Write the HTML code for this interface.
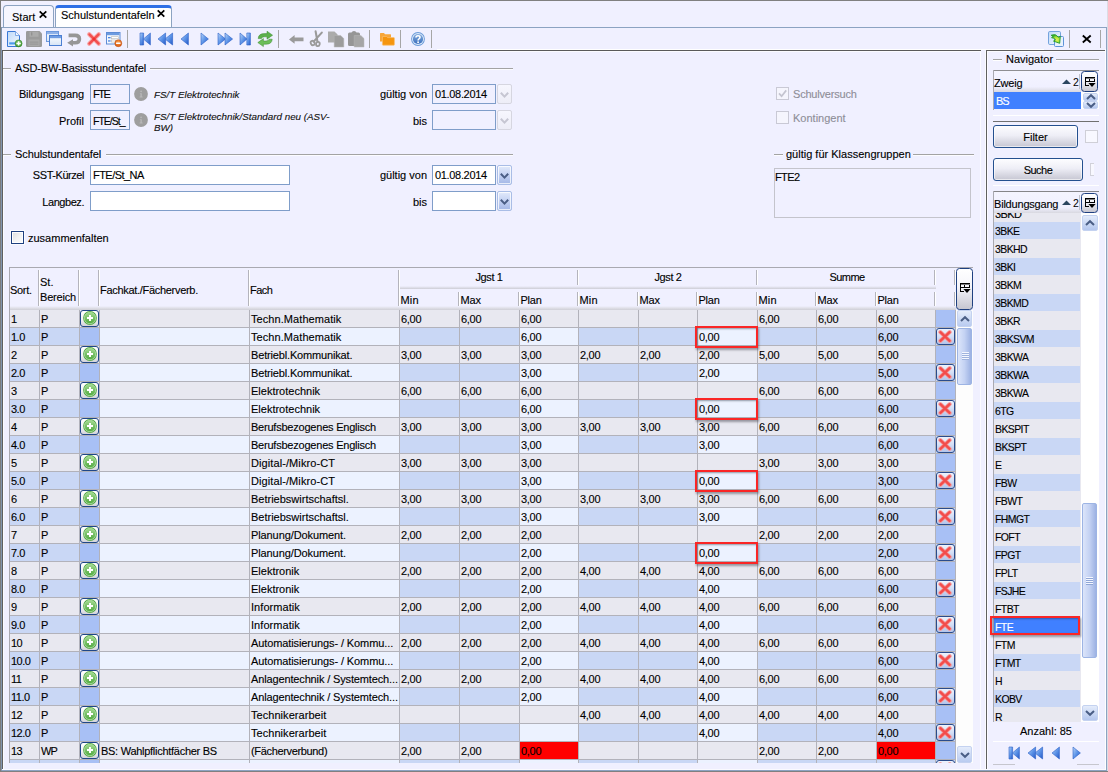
<!DOCTYPE html>
<html><head><meta charset="utf-8"><title>Schulstundentafeln</title>
<style>
html,body{margin:0;padding:0;}
body{width:1108px;height:772px;overflow:hidden;background:#F0F0FF;font-family:"Liberation Sans",sans-serif;font-size:11px;color:#000;-webkit-text-stroke:0.12px;}
#root{position:relative;width:1108px;height:772px;overflow:hidden;background:#F0F0FF;}
.a{position:absolute;}
.t{position:absolute;white-space:nowrap;line-height:14px;height:14px;}
.r{text-align:right;}
svg{position:absolute;overflow:visible;}

.tab{position:absolute;box-sizing:border-box;border:1px solid #8CA3C2;border-bottom:none;border-radius:4px 4px 0 0;}
.sep{position:absolute;width:1px;background:#A6A6A6;top:30px;height:18px;}

.inp{position:absolute;box-sizing:border-box;border:1px solid #7F9DC9;background:#fff;}
.inp.dis{background:#F0F0FF;}
.gline{position:absolute;height:1px;background:#A3A3A3;box-shadow:0 1px 0 #FCFCFF;}
.it{position:absolute;font-style:italic;font-size:9.8px;white-space:nowrap;line-height:11px;color:#101010;}
.chk{position:absolute;box-sizing:border-box;width:13px;height:13px;border:1px solid #1F4080;background:linear-gradient(135deg,#DDDDDD,#F2F2F2 50%,#FEFEFE);box-shadow:inset 0 0 0 1px #FFFFFF,0 0 0 1px rgba(255,255,255,.7);}
.chk.dis{border-color:#C9C9D5;background:#F5F5FD;box-shadow:none;}
.cbtn{position:absolute;box-sizing:border-box;width:15px;border:1px solid #7F9DC9;border-radius:2px;}

#tbl{position:absolute;left:9px;top:267px;width:964px;height:496px;overflow:hidden;}
#tbl .bd{position:absolute;background:#A9A9B1;}
.row{position:absolute;left:1px;width:946px;height:17px;}
.c{position:absolute;top:0;height:17px;line-height:19px;white-space:nowrap;overflow:hidden;box-sizing:border-box;padding-left:1px;letter-spacing:-0.15px;}
.vl{position:absolute;width:1px;background:#B2B2BA;}
.hl{position:absolute;height:1px;background:#B2B2BA;left:1px;width:946px;}
.hs{position:absolute;width:1px;background:#B4B4BC;box-shadow:1px 0 0 #FFFFFF;}
.ht{position:absolute;white-space:nowrap;line-height:14px;}
.g{background:#E8E8F0;}
.b1{background:#C9D7F5;}
.b2{background:#A8C0F5;}
.b3{background:#ECF2FF;}
.red{background:#FF0000;}
.pbtn{position:absolute;box-sizing:border-box;border:1px solid #1F4788;border-radius:3px;background:linear-gradient(#FFFFFF,#F4F4F8 55%,#D2D2DA);}
.hili{position:absolute;box-sizing:border-box;border:2px solid #FA2626;box-shadow:inset 1px 1px 2px rgba(70,80,95,.55),1px 2px 2px rgba(70,70,80,.5);}

.nbtn{position:absolute;box-sizing:border-box;border:1px solid #24508F;border-radius:3px;background:linear-gradient(#FDFDFF,#EEEEF6 45%,#C6C6D2);box-shadow:inset 0 0 0 1px rgba(255,255,255,.6);text-align:center;line-height:22px;}
.sx{display:inline-block;transform:scaleX(.95);transform-origin:0 50%;}
.nrow{position:absolute;left:994px;width:87px;height:18px;line-height:18px;padding-left:1px;box-sizing:border-box;white-space:nowrap;letter-spacing:-0.6px;}
</style></head>
<body>
<div id="root">
<div class="a" style="left:0;top:0;width:1108px;height:1px;background:#808080"></div>
<div class="a" style="left:0;top:0;width:1px;height:772px;background:#7C7C7C"></div>
<div class="a" style="left:1px;top:27px;width:1106px;height:1px;background:#8CA3C2"></div>
<div class="a" style="left:1106px;top:27px;width:1px;height:745px;background:#8CA3C2"></div>
<div class="a" style="left:1px;top:27px;width:1px;height:745px;background:#8296B0"></div>
<div class="tab" style="left:3px;top:5px;width:51px;height:22px;background:#F6F6FF"></div>
<div class="t" style="left:12px;top:10px;">Start</div>
<svg style="left:39px;top:11px" width="8" height="7" viewBox="0 0 8 7"><path d="M0.7 0.3 L7.3 6.7 M7.3 0.3 L0.7 6.7" stroke="#000" stroke-width="1.7" fill="none"/></svg>
<div class="tab" style="left:55px;top:5px;width:117px;height:22px;background:#FFFFFF;border-top:3px solid #2E6FE6;border-color:#2E6FE6 #8CA3C2 #8CA3C2 #8CA3C2"></div>
<div class="t" style="left:61px;top:8px;">Schulstundentafeln</div>
<svg style="left:157px;top:10px" width="8" height="7" viewBox="0 0 8 7"><path d="M0.7 0.3 L7.3 6.7 M7.3 0.3 L0.7 6.7" stroke="#000" stroke-width="1.7" fill="none"/></svg>
<div class="a" style="left:2px;top:50px;width:1px;height:720px;background:#606060"></div>
<div class="a" style="left:3px;top:51px;width:1px;height:719px;background:#FBFBFF"></div>
<div class="a" style="left:2px;top:50px;width:979px;height:1px;background:#5A5A5A"></div>
<div class="a" style="left:437px;top:49px;width:607px;height:1px;background:#FFFFFF"></div>
<div class="a" style="left:3px;top:51px;width:977px;height:1px;background:#FBFBFF"></div>
<div class="sep" style="left:127px"></div>
<div class="sep" style="left:278px"></div>
<div class="sep" style="left:369px"></div>
<div class="sep" style="left:400px"></div>
<div class="sep" style="left:431px"></div>
<div class="sep" style="left:1069px"></div>
<div class="sep" style="left:1100px"></div>
<svg width="0" height="0" style="left:0;top:0"><defs>
<linearGradient id="gb" x1="0" y1="0" x2="1" y2="1"><stop offset="0" stop-color="#B9D6F9"/><stop offset="0.5" stop-color="#5E95E8"/><stop offset="1" stop-color="#2458C6"/></linearGradient>
<linearGradient id="gdoc" x1="0" y1="0" x2="1" y2="1"><stop offset="0" stop-color="#BFD9F8"/><stop offset="1" stop-color="#F4F9FF"/></linearGradient>
<linearGradient id="gwin" x1="0" y1="0" x2="0" y2="1"><stop offset="0" stop-color="#FFFFFF"/><stop offset="1" stop-color="#D6E4F6"/></linearGradient>
<radialGradient id="ggreen" cx="0.5" cy="0.4" r="0.6"><stop offset="0" stop-color="#8FD07A"/><stop offset="1" stop-color="#3E9A30"/></radialGradient>
<radialGradient id="gorange" cx="0.5" cy="0.35" r="0.7"><stop offset="0" stop-color="#F79A4A"/><stop offset="1" stop-color="#D9560C"/></radialGradient>
<linearGradient id="ghelp" x1="0" y1="0" x2="0" y2="1"><stop offset="0" stop-color="#86AEE0"/><stop offset="1" stop-color="#3A6EBC"/></linearGradient>
<linearGradient id="gbtn" x1="0" y1="0" x2="0" y2="1"><stop offset="0" stop-color="#FFFFFF"/><stop offset="0.5" stop-color="#EDEDF3"/><stop offset="1" stop-color="#C9C9D3"/></linearGradient>
<linearGradient id="gplus" x1="0" y1="0" x2="0" y2="1"><stop offset="0" stop-color="#A4DA93"/><stop offset="1" stop-color="#4FA83E"/></linearGradient>
<radialGradient id="garrow" cx="0.62" cy="0.6" r="0.55"><stop offset="0" stop-color="#E4F550"/><stop offset="0.6" stop-color="#A6E03A"/><stop offset="1" stop-color="#3DB52E"/></radialGradient>
</defs></svg>
<svg style="left:7px;top:31px" width="16" height="16" viewBox="0 0 16 16"><path d="M0.5 0.5 H8.5 L12.5 4.5 V15.5 H0.5 Z" fill="url(#gdoc)" stroke="#3A78D6" stroke-width="1"/><path d="M8.5 0.5 V4.5 H12.5" fill="#F2F8FF" stroke="#6A9AE2" stroke-width="0.8"/><rect x="2.2" y="11.3" width="6.5" height="2.2" fill="#4C9BEA"/><circle cx="11.6" cy="12.4" r="3.5" fill="url(#ggreen)" stroke="#2E7D23" stroke-width="0.5"/><path d="M11.6 10.2 V14.6 M9.4 12.4 H13.8" stroke="#fff" stroke-width="1.5"/></svg>
<svg style="left:26px;top:31px" width="16" height="16" viewBox="0 0 16 16"><path d="M1.2 0 H13.5 L16 2.5 V14.8 Q16 16 14.8 16 H1.2 Q0 16 0 14.8 V1.2 Q0 0 1.2 0 Z" fill="#9B9B9B"/><rect x="3.5" y="0.8" width="9" height="5" fill="#ABABAB"/><rect x="5.2" y="1.3" width="1.1" height="3.2" fill="#8A8A8A"/><rect x="2.5" y="8.5" width="11" height="6.5" fill="#A9A9A9"/><rect x="3.6" y="10.6" width="8.8" height="1" fill="#969696"/><rect x="3.6" y="12.6" width="8.8" height="1" fill="#969696"/></svg>
<svg style="left:46px;top:31px" width="16" height="16" viewBox="0 0 16 16"><rect x="0.5" y="0.5" width="12" height="10" fill="url(#gwin)" stroke="#6C97DC"/><rect x="1" y="1" width="11" height="2.2" fill="#8EB1E8"/><rect x="3.5" y="4.5" width="12" height="10" fill="url(#gwin)" stroke="#4B7FD3"/><rect x="4" y="5" width="11" height="2.2" fill="#6F9CE2"/></svg>
<svg style="left:67px;top:33px" width="15" height="14" viewBox="0 0 15 14"><path d="M1.6 2.4 H8.2 Q12.4 2.4 12.4 6.1 Q12.4 9.8 8.2 9.8 H5" fill="none" stroke="#969696" stroke-width="3.6"/><path d="M6 6.2 L0.2 9.8 L6 13.4 Z" fill="#969696"/></svg>
<svg style="left:87px;top:32px" width="14" height="14" viewBox="0 0 14 14"><path d="M2.2 2.2 L11.8 11.8 M11.8 2.2 L2.2 11.8" stroke="#F9A4A4" stroke-width="4.2" stroke-linecap="round"/><path d="M2.4 2.4 L11.6 11.6 M11.6 2.4 L2.4 11.6" stroke="#F25050" stroke-width="2.3" stroke-linecap="round"/><circle cx="7" cy="7" r="1.6" fill="#EE3030"/></svg>
<svg style="left:106px;top:32px" width="16" height="15" viewBox="0 0 16 15"><rect x="0.5" y="0.5" width="13.5" height="11.5" fill="#F3F7FD" stroke="#5E8CD6"/><rect x="1" y="1" width="12.5" height="2.2" fill="#6D9BE0"/><rect x="2" y="5" width="2.6" height="1.3" fill="#4C86E2"/><rect x="5.5" y="4.7" width="7" height="2" fill="#fff" stroke="#B9B9B9" stroke-width="0.6"/><rect x="2" y="8.3" width="2.6" height="1.3" fill="#4C86E2"/><rect x="5.5" y="8" width="4" height="2" fill="#fff" stroke="#B9B9B9" stroke-width="0.6"/><circle cx="12.3" cy="11.2" r="3.5" fill="url(#gorange)" stroke="#B8490A" stroke-width="0.5"/><rect x="10.1" y="10.5" width="4.4" height="1.5" fill="#fff"/></svg>
<svg style="left:140px;top:33px" width="11" height="12" viewBox="0 0 11 12"><path d="M0 0 H3.6 V12 H0 Z" fill="url(#gb)" stroke="#2A5FC8" stroke-width="0.6" stroke-linejoin="round"/><path d="M10.4 0 L3.4 6 L10.4 12 Z" fill="url(#gb)" stroke="#2A5FC8" stroke-width="0.6" stroke-linejoin="round"/></svg>
<svg style="left:157.5px;top:33px" width="15" height="12" viewBox="0 0 15 12"><path d="M7.6 0 L0 6 L7.6 12 Z" fill="url(#gb)" stroke="#2A5FC8" stroke-width="0.6" stroke-linejoin="round"/><path d="M14.6 0 L7 6 L14.6 12 Z" fill="url(#gb)" stroke="#2A5FC8" stroke-width="0.6" stroke-linejoin="round"/></svg>
<svg style="left:180.5px;top:33px" width="8" height="12" viewBox="0 0 8 12"><path d="M7.4 0 L0 6 L7.4 12 Z" fill="url(#gb)" stroke="#2A5FC8" stroke-width="0.6" stroke-linejoin="round"/></svg>
<svg style="left:201px;top:33px" width="8" height="12" viewBox="0 0 8 12"><path d="M0 0 L7.4 6 L0 12 Z" fill="url(#gb)" stroke="#2A5FC8" stroke-width="0.6" stroke-linejoin="round"/></svg>
<svg style="left:217.5px;top:33px" width="15" height="12" viewBox="0 0 15 12"><path d="M0 0 L7.6 6 L0 12 Z" fill="url(#gb)" stroke="#2A5FC8" stroke-width="0.6" stroke-linejoin="round"/><path d="M7 0 L14.6 6 L7 12 Z" fill="url(#gb)" stroke="#2A5FC8" stroke-width="0.6" stroke-linejoin="round"/></svg>
<svg style="left:240px;top:33px" width="11" height="12" viewBox="0 0 11 12"><path d="M0 0 L7 6 L0 12 Z" fill="url(#gb)" stroke="#2A5FC8" stroke-width="0.6" stroke-linejoin="round"/><path d="M6.8 0 H10.4 V12 H6.8 Z" fill="url(#gb)" stroke="#2A5FC8" stroke-width="0.6" stroke-linejoin="round"/></svg>
<svg style="left:256.5px;top:31px" width="16.5" height="16" viewBox="0 0 16.5 16"><path d="M1.2 7.6 Q1.4 2.6 7.5 2.6 H10 V0.2 L15.6 4.2 L10 8.2 V5.8 H7.5 Q4.6 5.8 4.4 7.6 Z" fill="#5DB14C" stroke="#3A8A2E" stroke-width="0.5"/><path d="M15.2 8.2 Q15 13.2 9 13.2 H6.4 V15.6 L0.8 11.6 L6.4 7.6 V10 H9 Q11.8 10 12 8.2 Z" fill="#6CBE5A" stroke="#3A8A2E" stroke-width="0.5"/></svg>
<svg style="left:288.5px;top:35px" width="15" height="9" viewBox="0 0 15 9"><path d="M0 4.4 L5.6 0 V2.6 H14.5 V6.2 H5.6 V8.8 Z" fill="#9A9A9A"/></svg>
<svg style="left:310px;top:31px" width="13" height="16" viewBox="0 0 13 16"><path d="M5.6 0.4 L7.4 10.4 M11.8 1.6 L3.6 10.6" stroke="#9A9A9A" stroke-width="2.1" fill="none" stroke-linecap="round"/><ellipse cx="2.7" cy="12" rx="1.9" ry="2.3" fill="none" stroke="#9A9A9A" stroke-width="1.8" transform="rotate(-30 2.7 12)"/><ellipse cx="7.9" cy="13" rx="1.8" ry="2.2" fill="none" stroke="#9A9A9A" stroke-width="1.8" transform="rotate(10 7.9 13)"/></svg>
<svg style="left:328px;top:31px" width="16" height="16" viewBox="0 0 16 16"><path d="M0 0.5 H6.5 L9.6 3.6 V11.5 H0 Z" fill="#ABABAB"/><path d="M6.2 4.5 H12.7 L15.8 7.6 V16 H6.2 Z" fill="#9C9C9C" stroke="#B5B5B5" stroke-width="0.5"/></svg>
<svg style="left:348px;top:31px" width="16" height="16" viewBox="0 0 16 16"><path d="M1.5 1.5 H3.5 Q4 0 6 0 Q8 0 8.5 1.5 H10.5 Q12 1.5 12 3 V13.5 Q12 15 10.5 15 H1.5 Q0 15 0 13.5 V3 Q0 1.5 1.5 1.5 Z" fill="#969696"/><path d="M6.2 4.5 H12.9 L16 7.6 V16 H6.2 Z" fill="#A6A6A6" stroke="#B9B9B9" stroke-width="0.5"/></svg>
<svg style="left:380px;top:33px" width="15" height="13" viewBox="0 0 15 13"><path d="M0 0.6 Q0 0 0.6 0 H4 L5 1.2 H10.4 Q11 1.2 11 1.8 V8.4 H0 Z" fill="#F7A63A"/><path d="M2.4 4 Q2.4 3.4 3 3.4 H6.6 L7.6 4.6 H13.8 Q14.4 4.6 14.4 5.2 V11.6 Q14.4 12.2 13.8 12.2 H3 Q2.4 12.2 2.4 11.6 Z" fill="#F5950F" stroke="#FBC274" stroke-width="0.7"/></svg>
<svg style="left:411px;top:32px" width="14" height="14" viewBox="0 0 14 14"><circle cx="7" cy="7" r="6.9" fill="#6A9AD8"/><circle cx="7" cy="7" r="6" fill="#DCE9F9"/><circle cx="7" cy="7" r="5.1" fill="url(#ghelp)"/><path d="M5 5.6 Q5 3.7 7 3.7 Q9 3.7 9 5.3 Q9 6.3 8 6.9 Q7.1 7.4 7.1 8.4" fill="none" stroke="#fff" stroke-width="1.6"/><circle cx="7.1" cy="10.3" r="0.95" fill="#fff"/></svg>
<svg style="left:1048px;top:31px" width="16" height="16" viewBox="0 0 16 16"><rect x="0.5" y="0.5" width="12" height="13" rx="1.3" fill="url(#gdoc)" stroke="#74A3DE"/><rect x="6.5" y="5.5" width="9" height="10" rx="1" fill="#E9F2FD" stroke="#5E93D8"/><path d="M3.2 4.2 Q7.8 2.2 10.4 6.2 L12.3 5.3 L11.7 12.3 L5.5 10.1 L7.5 9 Q6.2 6.4 3.6 6.8 L4.8 5.5 Z" fill="url(#garrow)" stroke="#22982A" stroke-width="0.9" stroke-linejoin="round"/></svg>
<svg style="left:1082px;top:35px" width="9.5" height="8" viewBox="0 0 9.5 8"><path d="M0.8 0.5 L8.7 7.5 M8.7 0.5 L0.8 7.5" stroke="#000" stroke-width="1.8" fill="none"/></svg>
<div class="gline" style="left:3px;top:68px;width:8px"></div>
<div class="t" style="left:15px;top:61px;letter-spacing:-0.14px">ASD-BW-Basisstundentafel</div>
<div class="gline" style="left:150px;top:68px;width:363px"></div>
<div class="t r" style="left:4px;width:80px;top:87px;letter-spacing:-0.13px">Bildungsgang</div>
<div class="inp dis" style="left:90px;top:84px;width:40px;height:20px"></div><div class="t" style="left:93px;top:87px;letter-spacing:-1.5px">FTE</div>
<svg style="left:134px;top:87px" width="14" height="14" viewBox="0 0 14 14"><circle cx="7" cy="7" r="6.9" fill="#9E9E9E"/><circle cx="7.1" cy="4.3" r="0.9" fill="#B8B8B8"/><path d="M5.9 6.2 H7.8 V9.6 H8.6 V10.4 H5.6 V9.6 H6.4 V7 H5.9 Z" fill="#B8B8B8"/></svg>
<div class="it" style="left:154px;top:89px">FS/T Elektrotechnik</div>
<div class="t r" style="left:4px;width:80px;top:114px">Profil</div>
<div class="inp dis" style="left:90px;top:110px;width:40px;height:20px;overflow:hidden"></div><div class="t" style="left:93px;top:114px;width:35px;overflow:hidden;letter-spacing:-1px;font-size:10.5px">FTE/St_</div>
<svg style="left:134px;top:113px" width="14" height="14" viewBox="0 0 14 14"><circle cx="7" cy="7" r="6.9" fill="#9E9E9E"/><circle cx="7.1" cy="4.3" r="0.9" fill="#B8B8B8"/><path d="M5.9 6.2 H7.8 V9.6 H8.6 V10.4 H5.6 V9.6 H6.4 V7 H5.9 Z" fill="#B8B8B8"/></svg>
<div class="it" style="left:154px;top:111px">FS/T Elektrotechnik/Standard neu (ASV-<br>BW)</div>
<div class="t r" style="left:347px;width:80px;top:87px">gültig von</div>
<div class="inp dis" style="left:432px;top:84px;width:64px;height:20px"></div><div class="t" style="left:435px;top:87px;letter-spacing:-0.33px">01.08.2014</div><div class="cbtn" style="left:497px;top:84px;height:20px;background:linear-gradient(#F6F6FE,#EDEDF7);border-color:#D6D6E0"></div><svg style="left:500px;top:91.5px" width="9" height="6" viewBox="0 0 9 6"><path d="M0.8 0.8 L4.5 4.6 L8.2 0.8" fill="none" stroke="#C6C6D2" stroke-width="2"/></svg>
<div class="t r" style="left:347px;width:80px;top:114px">bis</div>
<div class="inp dis" style="left:432px;top:110px;width:64px;height:20px"></div><div class="cbtn" style="left:497px;top:110px;height:20px;background:linear-gradient(#F6F6FE,#EDEDF7);border-color:#D6D6E0"></div><svg style="left:500px;top:117.5px" width="9" height="6" viewBox="0 0 9 6"><path d="M0.8 0.8 L4.5 4.6 L8.2 0.8" fill="none" stroke="#C6C6D2" stroke-width="2"/></svg>
<div class="chk dis" style="left:776px;top:87px"></div>
<svg style="left:778px;top:89px" width="10" height="10" viewBox="0 0 10 10"><path d="M1 4.4 L3.6 7.2 L8.2 1.4" fill="none" stroke="#C4C4D0" stroke-width="1.7"/></svg>
<div class="t" style="left:793px;top:87px;color:#8E8E98;letter-spacing:-0.2px">Schulversuch</div>
<div class="chk dis" style="left:776px;top:111px"></div>
<div class="t" style="left:793px;top:111px;color:#8E8E98">Kontingent</div>
<div class="gline" style="left:3px;top:154px;width:8px"></div>
<div class="t" style="left:15px;top:147px;letter-spacing:-0.08px">Schulstundentafel</div>
<div class="gline" style="left:106px;top:154px;width:407px"></div>
<div class="t r" style="left:4px;width:80px;top:168px;letter-spacing:-0.45px">SST-Kürzel</div>
<div class="inp" style="left:90px;top:165px;width:200px;height:20px"></div><div class="t" style="left:93px;top:168px;letter-spacing:-0.55px">FTE/St_NA</div>
<div class="t r" style="left:4px;width:80px;top:195px;letter-spacing:-0.45px">Langbez.</div>
<div class="inp" style="left:90px;top:191px;width:200px;height:20px"></div>
<div class="t r" style="left:347px;width:80px;top:168px">gültig von</div>
<div class="inp" style="left:432px;top:165px;width:64px;height:20px"></div><div class="t" style="left:435px;top:168px;letter-spacing:-0.33px">01.08.2014</div><div class="cbtn" style="left:497px;top:165px;height:20px;background:linear-gradient(#E2EAFB,#C3D1F2 50%,#A3B7E6);border-color:#A9BDE6;box-shadow:inset 0 0 0 1px rgba(255,255,255,.75)"></div><svg style="left:500px;top:172.5px" width="9" height="6" viewBox="0 0 9 6"><path d="M0.8 0.8 L4.5 4.6 L8.2 0.8" fill="none" stroke="#4A5E85" stroke-width="2"/></svg>
<div class="t r" style="left:347px;width:80px;top:195px">bis</div>
<div class="inp" style="left:432px;top:191px;width:64px;height:20px"></div><div class="cbtn" style="left:497px;top:191px;height:20px;background:linear-gradient(#E2EAFB,#C3D1F2 50%,#A3B7E6);border-color:#A9BDE6;box-shadow:inset 0 0 0 1px rgba(255,255,255,.75)"></div><svg style="left:500px;top:198.5px" width="9" height="6" viewBox="0 0 9 6"><path d="M0.8 0.8 L4.5 4.6 L8.2 0.8" fill="none" stroke="#4A5E85" stroke-width="2"/></svg>
<div class="gline" style="left:774px;top:154px;width:9px"></div>
<div class="t" style="left:786px;top:147px">gültig für Klassengruppen</div>
<div class="gline" style="left:913px;top:154px;width:61px"></div>
<div class="a" style="left:774px;top:168px;width:197px;height:50px;box-sizing:border-box;border:1px solid #C4C4CC;background:#F0F0FF"></div>
<div class="t" style="left:775px;top:170px;letter-spacing:-0.6px">FTE2</div>
<div class="chk" style="left:11px;top:231px"></div>
<div class="t" style="left:28px;top:231px">zusammenfalten</div>
<div id="tbl">
<div class="bd" style="left:0;top:0;width:964px;height:1px"></div>
<div class="bd" style="left:0;top:0;width:1px;height:496px"></div>
<div class="hs" style="left:29px;top:3px;height:36px"></div>
<div class="hs" style="left:69px;top:3px;height:36px"></div>
<div class="hs" style="left:89px;top:3px;height:36px"></div>
<div class="hs" style="left:239px;top:3px;height:36px"></div>
<div class="hs" style="left:389px;top:3px;height:36px"></div>
<div class="hs" style="left:568px;top:3px;height:15px"></div>
<div class="hs" style="left:747px;top:3px;height:15px"></div>
<div class="hs" style="left:925px;top:3px;height:15px"></div>
<div class="hs" style="left:945px;top:3px;height:15px"></div>
<div class="hs" style="left:449px;top:25px;height:14px"></div>
<div class="hs" style="left:509px;top:25px;height:14px"></div>
<div class="hs" style="left:568px;top:25px;height:14px"></div>
<div class="hs" style="left:628px;top:25px;height:14px"></div>
<div class="hs" style="left:687px;top:25px;height:14px"></div>
<div class="hs" style="left:747px;top:25px;height:14px"></div>
<div class="hs" style="left:806px;top:25px;height:14px"></div>
<div class="hs" style="left:866px;top:25px;height:14px"></div>
<div class="hs" style="left:925px;top:25px;height:14px"></div>
<div class="hs" style="left:945px;top:25px;height:14px"></div>
<div class="a" style="left:391px;top:19px;width:536px;height:3px;background:linear-gradient(#F0F0FF,#CDCDD5)"></div>
<div class="a" style="left:1px;top:39px;width:946px;height:4px;background:linear-gradient(#F0F0FF,#E0E0E8 50%,#CFCFD7)"></div>
<div class="ht" style="left:1px;top:16px;letter-spacing:-0.3px">Sort.</div>
<div class="ht" style="left:31px;top:8px;">St.</div>
<div class="ht" style="left:31px;top:23px;letter-spacing:-0.2px">Bereich</div>
<div class="ht" style="left:91px;top:16px;letter-spacing:-0.3px">Fachkat./Fächerverb.</div>
<div class="ht" style="left:241px;top:16px;letter-spacing:-0.5px">Fach</div>
<div class="ht" style="left:391px;top:3px;width:178px;text-align:center;letter-spacing:-0.35px">Jgst 1</div>
<div class="ht" style="left:570px;top:3px;width:178px;text-align:center;letter-spacing:-0.35px">Jgst 2</div>
<div class="ht" style="left:749px;top:3px;width:178px;text-align:center;letter-spacing:-0.58px">Summe</div>
<div class="ht" style="left:391.5px;top:26px;letter-spacing:0.2px">Min</div>
<div class="ht" style="left:451.5px;top:26px;letter-spacing:-0.2px">Max</div>
<div class="ht" style="left:511.5px;top:26px;letter-spacing:-0.25px">Plan</div>
<div class="ht" style="left:570.5px;top:26px;letter-spacing:0.2px">Min</div>
<div class="ht" style="left:630.5px;top:26px;letter-spacing:-0.2px">Max</div>
<div class="ht" style="left:689.5px;top:26px;letter-spacing:-0.25px">Plan</div>
<div class="ht" style="left:749.5px;top:26px;letter-spacing:0.2px">Min</div>
<div class="ht" style="left:808.5px;top:26px;letter-spacing:-0.2px">Max</div>
<div class="ht" style="left:868.5px;top:26px;letter-spacing:-0.25px">Plan</div>
<div class="row" style="top:43px"><div class="c g" style="left:0px;width:29px;letter-spacing:-0.5px;">1</div><div class="c g" style="left:30px;width:39px;letter-spacing:0px;">P</div><div class="c g" style="left:70px;width:19px;"></div><div class="c g" style="left:90px;width:149px;padding-left:1px;"></div><div class="c g" style="left:240px;width:149px;padding-left:1px;letter-spacing:0.07px;">Techn.Mathematik</div><div class="c g" style="left:390px;width:59px;padding-left:1px;letter-spacing:-0.3px;">6,00</div><div class="c g" style="left:450px;width:59px;padding-left:1px;letter-spacing:-0.3px;">6,00</div><div class="c g" style="left:510px;width:58px;padding-left:1px;letter-spacing:-0.3px;">6,00</div><div class="c g" style="left:569px;width:59px;padding-left:1px;"></div><div class="c g" style="left:629px;width:58px;padding-left:1px;"></div><div class="c g" style="left:688px;width:59px;padding-left:1px;"></div><div class="c g" style="left:748px;width:58px;padding-left:1px;letter-spacing:-0.3px;">6,00</div><div class="c g" style="left:807px;width:59px;padding-left:1px;letter-spacing:-0.3px;">6,00</div><div class="c g" style="left:867px;width:58px;padding-left:1px;letter-spacing:-0.3px;">6,00</div><div class="c b2" style="left:926px;width:19px;"></div></div>
<div class="hl" style="top:60px"></div>
<div class="row" style="top:61px"><div class="c b1" style="left:0px;width:29px;letter-spacing:-0.5px;">1.0</div><div class="c b1" style="left:30px;width:39px;letter-spacing:0px;">P</div><div class="c b2" style="left:70px;width:19px;"></div><div class="c b3" style="left:90px;width:149px;padding-left:1px;"></div><div class="c b3" style="left:240px;width:149px;padding-left:1px;letter-spacing:0.07px;">Techn.Mathematik</div><div class="c b1" style="left:390px;width:59px;padding-left:1px;"></div><div class="c b1" style="left:450px;width:59px;padding-left:1px;"></div><div class="c b3" style="left:510px;width:58px;padding-left:1px;letter-spacing:-0.3px;">6,00</div><div class="c b1" style="left:569px;width:59px;padding-left:1px;"></div><div class="c b1" style="left:629px;width:58px;padding-left:1px;"></div><div class="c b3" style="left:688px;width:59px;padding-left:1px;letter-spacing:-0.3px;">0,00</div><div class="c b1" style="left:748px;width:58px;padding-left:1px;"></div><div class="c b1" style="left:807px;width:59px;padding-left:1px;"></div><div class="c b1" style="left:867px;width:58px;padding-left:1px;letter-spacing:-0.3px;">6,00</div><div class="c b1" style="left:926px;width:19px;"></div></div>
<div class="hl" style="top:78px"></div>
<div class="row" style="top:79px"><div class="c g" style="left:0px;width:29px;letter-spacing:-0.5px;">2</div><div class="c g" style="left:30px;width:39px;letter-spacing:0px;">P</div><div class="c g" style="left:70px;width:19px;"></div><div class="c g" style="left:90px;width:149px;padding-left:1px;"></div><div class="c g" style="left:240px;width:149px;padding-left:1px;letter-spacing:-0.16px;">Betriebl.Kommunikat.</div><div class="c g" style="left:390px;width:59px;padding-left:1px;letter-spacing:-0.3px;">3,00</div><div class="c g" style="left:450px;width:59px;padding-left:1px;letter-spacing:-0.3px;">3,00</div><div class="c g" style="left:510px;width:58px;padding-left:1px;letter-spacing:-0.3px;">3,00</div><div class="c g" style="left:569px;width:59px;padding-left:1px;letter-spacing:-0.3px;">2,00</div><div class="c g" style="left:629px;width:58px;padding-left:1px;letter-spacing:-0.3px;">2,00</div><div class="c g" style="left:688px;width:59px;padding-left:1px;letter-spacing:-0.3px;">2,00</div><div class="c g" style="left:748px;width:58px;padding-left:1px;letter-spacing:-0.3px;">5,00</div><div class="c g" style="left:807px;width:59px;padding-left:1px;letter-spacing:-0.3px;">5,00</div><div class="c g" style="left:867px;width:58px;padding-left:1px;letter-spacing:-0.3px;">5,00</div><div class="c b2" style="left:926px;width:19px;"></div></div>
<div class="hl" style="top:96px"></div>
<div class="row" style="top:97px"><div class="c b1" style="left:0px;width:29px;letter-spacing:-0.5px;">2.0</div><div class="c b1" style="left:30px;width:39px;letter-spacing:0px;">P</div><div class="c b2" style="left:70px;width:19px;"></div><div class="c b3" style="left:90px;width:149px;padding-left:1px;"></div><div class="c b3" style="left:240px;width:149px;padding-left:1px;letter-spacing:-0.16px;">Betriebl.Kommunikat.</div><div class="c b1" style="left:390px;width:59px;padding-left:1px;"></div><div class="c b1" style="left:450px;width:59px;padding-left:1px;"></div><div class="c b3" style="left:510px;width:58px;padding-left:1px;letter-spacing:-0.3px;">3,00</div><div class="c b1" style="left:569px;width:59px;padding-left:1px;"></div><div class="c b1" style="left:629px;width:58px;padding-left:1px;"></div><div class="c b3" style="left:688px;width:59px;padding-left:1px;letter-spacing:-0.3px;">2,00</div><div class="c b1" style="left:748px;width:58px;padding-left:1px;"></div><div class="c b1" style="left:807px;width:59px;padding-left:1px;"></div><div class="c b1" style="left:867px;width:58px;padding-left:1px;letter-spacing:-0.3px;">5,00</div><div class="c b1" style="left:926px;width:19px;"></div></div>
<div class="hl" style="top:114px"></div>
<div class="row" style="top:115px"><div class="c g" style="left:0px;width:29px;letter-spacing:-0.5px;">3</div><div class="c g" style="left:30px;width:39px;letter-spacing:0px;">P</div><div class="c g" style="left:70px;width:19px;"></div><div class="c g" style="left:90px;width:149px;padding-left:1px;"></div><div class="c g" style="left:240px;width:149px;padding-left:1px;letter-spacing:0px;">Elektrotechnik</div><div class="c g" style="left:390px;width:59px;padding-left:1px;letter-spacing:-0.3px;">6,00</div><div class="c g" style="left:450px;width:59px;padding-left:1px;letter-spacing:-0.3px;">6,00</div><div class="c g" style="left:510px;width:58px;padding-left:1px;letter-spacing:-0.3px;">6,00</div><div class="c g" style="left:569px;width:59px;padding-left:1px;"></div><div class="c g" style="left:629px;width:58px;padding-left:1px;"></div><div class="c g" style="left:688px;width:59px;padding-left:1px;"></div><div class="c g" style="left:748px;width:58px;padding-left:1px;letter-spacing:-0.3px;">6,00</div><div class="c g" style="left:807px;width:59px;padding-left:1px;letter-spacing:-0.3px;">6,00</div><div class="c g" style="left:867px;width:58px;padding-left:1px;letter-spacing:-0.3px;">6,00</div><div class="c b2" style="left:926px;width:19px;"></div></div>
<div class="hl" style="top:132px"></div>
<div class="row" style="top:133px"><div class="c b1" style="left:0px;width:29px;letter-spacing:-0.5px;">3.0</div><div class="c b1" style="left:30px;width:39px;letter-spacing:0px;">P</div><div class="c b2" style="left:70px;width:19px;"></div><div class="c b3" style="left:90px;width:149px;padding-left:1px;"></div><div class="c b3" style="left:240px;width:149px;padding-left:1px;letter-spacing:0px;">Elektrotechnik</div><div class="c b1" style="left:390px;width:59px;padding-left:1px;"></div><div class="c b1" style="left:450px;width:59px;padding-left:1px;"></div><div class="c b3" style="left:510px;width:58px;padding-left:1px;letter-spacing:-0.3px;">6,00</div><div class="c b1" style="left:569px;width:59px;padding-left:1px;"></div><div class="c b1" style="left:629px;width:58px;padding-left:1px;"></div><div class="c b3" style="left:688px;width:59px;padding-left:1px;letter-spacing:-0.3px;">0,00</div><div class="c b1" style="left:748px;width:58px;padding-left:1px;"></div><div class="c b1" style="left:807px;width:59px;padding-left:1px;"></div><div class="c b1" style="left:867px;width:58px;padding-left:1px;letter-spacing:-0.3px;">6,00</div><div class="c b1" style="left:926px;width:19px;"></div></div>
<div class="hl" style="top:150px"></div>
<div class="row" style="top:151px"><div class="c g" style="left:0px;width:29px;letter-spacing:-0.5px;">4</div><div class="c g" style="left:30px;width:39px;letter-spacing:0px;">P</div><div class="c g" style="left:70px;width:19px;"></div><div class="c g" style="left:90px;width:149px;padding-left:1px;"></div><div class="c g" style="left:240px;width:149px;padding-left:1px;letter-spacing:-0.22px;">Berufsbezogenes Englisch</div><div class="c g" style="left:390px;width:59px;padding-left:1px;letter-spacing:-0.3px;">3,00</div><div class="c g" style="left:450px;width:59px;padding-left:1px;letter-spacing:-0.3px;">3,00</div><div class="c g" style="left:510px;width:58px;padding-left:1px;letter-spacing:-0.3px;">3,00</div><div class="c g" style="left:569px;width:59px;padding-left:1px;letter-spacing:-0.3px;">3,00</div><div class="c g" style="left:629px;width:58px;padding-left:1px;letter-spacing:-0.3px;">3,00</div><div class="c g" style="left:688px;width:59px;padding-left:1px;letter-spacing:-0.3px;">3,00</div><div class="c g" style="left:748px;width:58px;padding-left:1px;letter-spacing:-0.3px;">6,00</div><div class="c g" style="left:807px;width:59px;padding-left:1px;letter-spacing:-0.3px;">6,00</div><div class="c g" style="left:867px;width:58px;padding-left:1px;letter-spacing:-0.3px;">6,00</div><div class="c b2" style="left:926px;width:19px;"></div></div>
<div class="hl" style="top:168px"></div>
<div class="row" style="top:169px"><div class="c b1" style="left:0px;width:29px;letter-spacing:-0.5px;">4.0</div><div class="c b1" style="left:30px;width:39px;letter-spacing:0px;">P</div><div class="c b2" style="left:70px;width:19px;"></div><div class="c b3" style="left:90px;width:149px;padding-left:1px;"></div><div class="c b3" style="left:240px;width:149px;padding-left:1px;letter-spacing:-0.22px;">Berufsbezogenes Englisch</div><div class="c b1" style="left:390px;width:59px;padding-left:1px;"></div><div class="c b1" style="left:450px;width:59px;padding-left:1px;"></div><div class="c b3" style="left:510px;width:58px;padding-left:1px;letter-spacing:-0.3px;">3,00</div><div class="c b1" style="left:569px;width:59px;padding-left:1px;"></div><div class="c b1" style="left:629px;width:58px;padding-left:1px;"></div><div class="c b3" style="left:688px;width:59px;padding-left:1px;letter-spacing:-0.3px;">3,00</div><div class="c b1" style="left:748px;width:58px;padding-left:1px;"></div><div class="c b1" style="left:807px;width:59px;padding-left:1px;"></div><div class="c b1" style="left:867px;width:58px;padding-left:1px;letter-spacing:-0.3px;">6,00</div><div class="c b1" style="left:926px;width:19px;"></div></div>
<div class="hl" style="top:186px"></div>
<div class="row" style="top:187px"><div class="c g" style="left:0px;width:29px;letter-spacing:-0.5px;">5</div><div class="c g" style="left:30px;width:39px;letter-spacing:0px;">P</div><div class="c g" style="left:70px;width:19px;"></div><div class="c g" style="left:90px;width:149px;padding-left:1px;"></div><div class="c g" style="left:240px;width:149px;padding-left:1px;letter-spacing:0.09px;">Digital-/Mikro-CT</div><div class="c g" style="left:390px;width:59px;padding-left:1px;letter-spacing:-0.3px;">3,00</div><div class="c g" style="left:450px;width:59px;padding-left:1px;letter-spacing:-0.3px;">3,00</div><div class="c g" style="left:510px;width:58px;padding-left:1px;letter-spacing:-0.3px;">3,00</div><div class="c g" style="left:569px;width:59px;padding-left:1px;"></div><div class="c g" style="left:629px;width:58px;padding-left:1px;"></div><div class="c g" style="left:688px;width:59px;padding-left:1px;"></div><div class="c g" style="left:748px;width:58px;padding-left:1px;letter-spacing:-0.3px;">3,00</div><div class="c g" style="left:807px;width:59px;padding-left:1px;letter-spacing:-0.3px;">3,00</div><div class="c g" style="left:867px;width:58px;padding-left:1px;letter-spacing:-0.3px;">3,00</div><div class="c b2" style="left:926px;width:19px;"></div></div>
<div class="hl" style="top:204px"></div>
<div class="row" style="top:205px"><div class="c b1" style="left:0px;width:29px;letter-spacing:-0.5px;">5.0</div><div class="c b1" style="left:30px;width:39px;letter-spacing:0px;">P</div><div class="c b2" style="left:70px;width:19px;"></div><div class="c b3" style="left:90px;width:149px;padding-left:1px;"></div><div class="c b3" style="left:240px;width:149px;padding-left:1px;letter-spacing:0.09px;">Digital-/Mikro-CT</div><div class="c b1" style="left:390px;width:59px;padding-left:1px;"></div><div class="c b1" style="left:450px;width:59px;padding-left:1px;"></div><div class="c b3" style="left:510px;width:58px;padding-left:1px;letter-spacing:-0.3px;">3,00</div><div class="c b1" style="left:569px;width:59px;padding-left:1px;"></div><div class="c b1" style="left:629px;width:58px;padding-left:1px;"></div><div class="c b3" style="left:688px;width:59px;padding-left:1px;letter-spacing:-0.3px;">0,00</div><div class="c b1" style="left:748px;width:58px;padding-left:1px;"></div><div class="c b1" style="left:807px;width:59px;padding-left:1px;"></div><div class="c b1" style="left:867px;width:58px;padding-left:1px;letter-spacing:-0.3px;">3,00</div><div class="c b1" style="left:926px;width:19px;"></div></div>
<div class="hl" style="top:222px"></div>
<div class="row" style="top:223px"><div class="c g" style="left:0px;width:29px;letter-spacing:-0.5px;">6</div><div class="c g" style="left:30px;width:39px;letter-spacing:0px;">P</div><div class="c g" style="left:70px;width:19px;"></div><div class="c g" style="left:90px;width:149px;padding-left:1px;"></div><div class="c g" style="left:240px;width:149px;padding-left:1px;letter-spacing:0px;">Betriebswirtschaftsl.</div><div class="c g" style="left:390px;width:59px;padding-left:1px;letter-spacing:-0.3px;">3,00</div><div class="c g" style="left:450px;width:59px;padding-left:1px;letter-spacing:-0.3px;">3,00</div><div class="c g" style="left:510px;width:58px;padding-left:1px;letter-spacing:-0.3px;">3,00</div><div class="c g" style="left:569px;width:59px;padding-left:1px;letter-spacing:-0.3px;">3,00</div><div class="c g" style="left:629px;width:58px;padding-left:1px;letter-spacing:-0.3px;">3,00</div><div class="c g" style="left:688px;width:59px;padding-left:1px;letter-spacing:-0.3px;">3,00</div><div class="c g" style="left:748px;width:58px;padding-left:1px;letter-spacing:-0.3px;">6,00</div><div class="c g" style="left:807px;width:59px;padding-left:1px;letter-spacing:-0.3px;">6,00</div><div class="c g" style="left:867px;width:58px;padding-left:1px;letter-spacing:-0.3px;">6,00</div><div class="c b2" style="left:926px;width:19px;"></div></div>
<div class="hl" style="top:240px"></div>
<div class="row" style="top:241px"><div class="c b1" style="left:0px;width:29px;letter-spacing:-0.5px;">6.0</div><div class="c b1" style="left:30px;width:39px;letter-spacing:0px;">P</div><div class="c b2" style="left:70px;width:19px;"></div><div class="c b3" style="left:90px;width:149px;padding-left:1px;"></div><div class="c b3" style="left:240px;width:149px;padding-left:1px;letter-spacing:0px;">Betriebswirtschaftsl.</div><div class="c b1" style="left:390px;width:59px;padding-left:1px;"></div><div class="c b1" style="left:450px;width:59px;padding-left:1px;"></div><div class="c b3" style="left:510px;width:58px;padding-left:1px;letter-spacing:-0.3px;">3,00</div><div class="c b1" style="left:569px;width:59px;padding-left:1px;"></div><div class="c b1" style="left:629px;width:58px;padding-left:1px;"></div><div class="c b3" style="left:688px;width:59px;padding-left:1px;letter-spacing:-0.3px;">3,00</div><div class="c b1" style="left:748px;width:58px;padding-left:1px;"></div><div class="c b1" style="left:807px;width:59px;padding-left:1px;"></div><div class="c b1" style="left:867px;width:58px;padding-left:1px;letter-spacing:-0.3px;">6,00</div><div class="c b1" style="left:926px;width:19px;"></div></div>
<div class="hl" style="top:258px"></div>
<div class="row" style="top:259px"><div class="c g" style="left:0px;width:29px;letter-spacing:-0.5px;">7</div><div class="c g" style="left:30px;width:39px;letter-spacing:0px;">P</div><div class="c g" style="left:70px;width:19px;"></div><div class="c g" style="left:90px;width:149px;padding-left:1px;"></div><div class="c g" style="left:240px;width:149px;padding-left:1px;letter-spacing:-0.1px;">Planung/Dokument.</div><div class="c g" style="left:390px;width:59px;padding-left:1px;letter-spacing:-0.3px;">2,00</div><div class="c g" style="left:450px;width:59px;padding-left:1px;letter-spacing:-0.3px;">2,00</div><div class="c g" style="left:510px;width:58px;padding-left:1px;letter-spacing:-0.3px;">2,00</div><div class="c g" style="left:569px;width:59px;padding-left:1px;"></div><div class="c g" style="left:629px;width:58px;padding-left:1px;"></div><div class="c g" style="left:688px;width:59px;padding-left:1px;"></div><div class="c g" style="left:748px;width:58px;padding-left:1px;letter-spacing:-0.3px;">2,00</div><div class="c g" style="left:807px;width:59px;padding-left:1px;letter-spacing:-0.3px;">2,00</div><div class="c g" style="left:867px;width:58px;padding-left:1px;letter-spacing:-0.3px;">2,00</div><div class="c b2" style="left:926px;width:19px;"></div></div>
<div class="hl" style="top:276px"></div>
<div class="row" style="top:277px"><div class="c b1" style="left:0px;width:29px;letter-spacing:-0.5px;">7.0</div><div class="c b1" style="left:30px;width:39px;letter-spacing:0px;">P</div><div class="c b2" style="left:70px;width:19px;"></div><div class="c b3" style="left:90px;width:149px;padding-left:1px;"></div><div class="c b3" style="left:240px;width:149px;padding-left:1px;letter-spacing:-0.1px;">Planung/Dokument.</div><div class="c b1" style="left:390px;width:59px;padding-left:1px;"></div><div class="c b1" style="left:450px;width:59px;padding-left:1px;"></div><div class="c b3" style="left:510px;width:58px;padding-left:1px;letter-spacing:-0.3px;">2,00</div><div class="c b1" style="left:569px;width:59px;padding-left:1px;"></div><div class="c b1" style="left:629px;width:58px;padding-left:1px;"></div><div class="c b3" style="left:688px;width:59px;padding-left:1px;letter-spacing:-0.3px;">0,00</div><div class="c b1" style="left:748px;width:58px;padding-left:1px;"></div><div class="c b1" style="left:807px;width:59px;padding-left:1px;"></div><div class="c b1" style="left:867px;width:58px;padding-left:1px;letter-spacing:-0.3px;">2,00</div><div class="c b1" style="left:926px;width:19px;"></div></div>
<div class="hl" style="top:294px"></div>
<div class="row" style="top:295px"><div class="c g" style="left:0px;width:29px;letter-spacing:-0.5px;">8</div><div class="c g" style="left:30px;width:39px;letter-spacing:0px;">P</div><div class="c g" style="left:70px;width:19px;"></div><div class="c g" style="left:90px;width:149px;padding-left:1px;"></div><div class="c g" style="left:240px;width:149px;padding-left:1px;letter-spacing:0px;">Elektronik</div><div class="c g" style="left:390px;width:59px;padding-left:1px;letter-spacing:-0.3px;">2,00</div><div class="c g" style="left:450px;width:59px;padding-left:1px;letter-spacing:-0.3px;">2,00</div><div class="c g" style="left:510px;width:58px;padding-left:1px;letter-spacing:-0.3px;">2,00</div><div class="c g" style="left:569px;width:59px;padding-left:1px;letter-spacing:-0.3px;">4,00</div><div class="c g" style="left:629px;width:58px;padding-left:1px;letter-spacing:-0.3px;">4,00</div><div class="c g" style="left:688px;width:59px;padding-left:1px;letter-spacing:-0.3px;">4,00</div><div class="c g" style="left:748px;width:58px;padding-left:1px;letter-spacing:-0.3px;">6,00</div><div class="c g" style="left:807px;width:59px;padding-left:1px;letter-spacing:-0.3px;">6,00</div><div class="c g" style="left:867px;width:58px;padding-left:1px;letter-spacing:-0.3px;">6,00</div><div class="c b2" style="left:926px;width:19px;"></div></div>
<div class="hl" style="top:312px"></div>
<div class="row" style="top:313px"><div class="c b1" style="left:0px;width:29px;letter-spacing:-0.5px;">8.0</div><div class="c b1" style="left:30px;width:39px;letter-spacing:0px;">P</div><div class="c b2" style="left:70px;width:19px;"></div><div class="c b3" style="left:90px;width:149px;padding-left:1px;"></div><div class="c b3" style="left:240px;width:149px;padding-left:1px;letter-spacing:0px;">Elektronik</div><div class="c b1" style="left:390px;width:59px;padding-left:1px;"></div><div class="c b1" style="left:450px;width:59px;padding-left:1px;"></div><div class="c b3" style="left:510px;width:58px;padding-left:1px;letter-spacing:-0.3px;">2,00</div><div class="c b1" style="left:569px;width:59px;padding-left:1px;"></div><div class="c b1" style="left:629px;width:58px;padding-left:1px;"></div><div class="c b3" style="left:688px;width:59px;padding-left:1px;letter-spacing:-0.3px;">4,00</div><div class="c b1" style="left:748px;width:58px;padding-left:1px;"></div><div class="c b1" style="left:807px;width:59px;padding-left:1px;"></div><div class="c b1" style="left:867px;width:58px;padding-left:1px;letter-spacing:-0.3px;">6,00</div><div class="c b1" style="left:926px;width:19px;"></div></div>
<div class="hl" style="top:330px"></div>
<div class="row" style="top:331px"><div class="c g" style="left:0px;width:29px;letter-spacing:-0.5px;">9</div><div class="c g" style="left:30px;width:39px;letter-spacing:0px;">P</div><div class="c g" style="left:70px;width:19px;"></div><div class="c g" style="left:90px;width:149px;padding-left:1px;"></div><div class="c g" style="left:240px;width:149px;padding-left:1px;letter-spacing:0.06px;">Informatik</div><div class="c g" style="left:390px;width:59px;padding-left:1px;letter-spacing:-0.3px;">2,00</div><div class="c g" style="left:450px;width:59px;padding-left:1px;letter-spacing:-0.3px;">2,00</div><div class="c g" style="left:510px;width:58px;padding-left:1px;letter-spacing:-0.3px;">2,00</div><div class="c g" style="left:569px;width:59px;padding-left:1px;letter-spacing:-0.3px;">4,00</div><div class="c g" style="left:629px;width:58px;padding-left:1px;letter-spacing:-0.3px;">4,00</div><div class="c g" style="left:688px;width:59px;padding-left:1px;letter-spacing:-0.3px;">4,00</div><div class="c g" style="left:748px;width:58px;padding-left:1px;letter-spacing:-0.3px;">6,00</div><div class="c g" style="left:807px;width:59px;padding-left:1px;letter-spacing:-0.3px;">6,00</div><div class="c g" style="left:867px;width:58px;padding-left:1px;letter-spacing:-0.3px;">6,00</div><div class="c b2" style="left:926px;width:19px;"></div></div>
<div class="hl" style="top:348px"></div>
<div class="row" style="top:349px"><div class="c b1" style="left:0px;width:29px;letter-spacing:-0.5px;">9.0</div><div class="c b1" style="left:30px;width:39px;letter-spacing:0px;">P</div><div class="c b2" style="left:70px;width:19px;"></div><div class="c b3" style="left:90px;width:149px;padding-left:1px;"></div><div class="c b3" style="left:240px;width:149px;padding-left:1px;letter-spacing:0.06px;">Informatik</div><div class="c b1" style="left:390px;width:59px;padding-left:1px;"></div><div class="c b1" style="left:450px;width:59px;padding-left:1px;"></div><div class="c b3" style="left:510px;width:58px;padding-left:1px;letter-spacing:-0.3px;">2,00</div><div class="c b1" style="left:569px;width:59px;padding-left:1px;"></div><div class="c b1" style="left:629px;width:58px;padding-left:1px;"></div><div class="c b3" style="left:688px;width:59px;padding-left:1px;letter-spacing:-0.3px;">4,00</div><div class="c b1" style="left:748px;width:58px;padding-left:1px;"></div><div class="c b1" style="left:807px;width:59px;padding-left:1px;"></div><div class="c b1" style="left:867px;width:58px;padding-left:1px;letter-spacing:-0.3px;">6,00</div><div class="c b1" style="left:926px;width:19px;"></div></div>
<div class="hl" style="top:366px"></div>
<div class="row" style="top:367px"><div class="c g" style="left:0px;width:29px;letter-spacing:-0.5px;">10</div><div class="c g" style="left:30px;width:39px;letter-spacing:0px;">P</div><div class="c g" style="left:70px;width:19px;"></div><div class="c g" style="left:90px;width:149px;padding-left:1px;"></div><div class="c g" style="left:240px;width:149px;padding-left:1px;letter-spacing:-0.1px;">Automatisierungs- / Kommu...</div><div class="c g" style="left:390px;width:59px;padding-left:1px;letter-spacing:-0.3px;">2,00</div><div class="c g" style="left:450px;width:59px;padding-left:1px;letter-spacing:-0.3px;">2,00</div><div class="c g" style="left:510px;width:58px;padding-left:1px;letter-spacing:-0.3px;">2,00</div><div class="c g" style="left:569px;width:59px;padding-left:1px;letter-spacing:-0.3px;">4,00</div><div class="c g" style="left:629px;width:58px;padding-left:1px;letter-spacing:-0.3px;">4,00</div><div class="c g" style="left:688px;width:59px;padding-left:1px;letter-spacing:-0.3px;">4,00</div><div class="c g" style="left:748px;width:58px;padding-left:1px;letter-spacing:-0.3px;">6,00</div><div class="c g" style="left:807px;width:59px;padding-left:1px;letter-spacing:-0.3px;">6,00</div><div class="c g" style="left:867px;width:58px;padding-left:1px;letter-spacing:-0.3px;">6,00</div><div class="c b2" style="left:926px;width:19px;"></div></div>
<div class="hl" style="top:384px"></div>
<div class="row" style="top:385px"><div class="c b1" style="left:0px;width:29px;letter-spacing:-0.5px;">10.0</div><div class="c b1" style="left:30px;width:39px;letter-spacing:0px;">P</div><div class="c b2" style="left:70px;width:19px;"></div><div class="c b3" style="left:90px;width:149px;padding-left:1px;"></div><div class="c b3" style="left:240px;width:149px;padding-left:1px;letter-spacing:-0.1px;">Automatisierungs- / Kommu...</div><div class="c b1" style="left:390px;width:59px;padding-left:1px;"></div><div class="c b1" style="left:450px;width:59px;padding-left:1px;"></div><div class="c b3" style="left:510px;width:58px;padding-left:1px;letter-spacing:-0.3px;">2,00</div><div class="c b1" style="left:569px;width:59px;padding-left:1px;"></div><div class="c b1" style="left:629px;width:58px;padding-left:1px;"></div><div class="c b3" style="left:688px;width:59px;padding-left:1px;letter-spacing:-0.3px;">4,00</div><div class="c b1" style="left:748px;width:58px;padding-left:1px;"></div><div class="c b1" style="left:807px;width:59px;padding-left:1px;"></div><div class="c b1" style="left:867px;width:58px;padding-left:1px;letter-spacing:-0.3px;">6,00</div><div class="c b1" style="left:926px;width:19px;"></div></div>
<div class="hl" style="top:402px"></div>
<div class="row" style="top:403px"><div class="c g" style="left:0px;width:29px;letter-spacing:-0.5px;">11</div><div class="c g" style="left:30px;width:39px;letter-spacing:0px;">P</div><div class="c g" style="left:70px;width:19px;"></div><div class="c g" style="left:90px;width:149px;padding-left:1px;"></div><div class="c g" style="left:240px;width:149px;padding-left:1px;letter-spacing:-0.14px;">Anlagentechnik / Systemtech...</div><div class="c g" style="left:390px;width:59px;padding-left:1px;letter-spacing:-0.3px;">2,00</div><div class="c g" style="left:450px;width:59px;padding-left:1px;letter-spacing:-0.3px;">2,00</div><div class="c g" style="left:510px;width:58px;padding-left:1px;letter-spacing:-0.3px;">2,00</div><div class="c g" style="left:569px;width:59px;padding-left:1px;letter-spacing:-0.3px;">4,00</div><div class="c g" style="left:629px;width:58px;padding-left:1px;letter-spacing:-0.3px;">4,00</div><div class="c g" style="left:688px;width:59px;padding-left:1px;letter-spacing:-0.3px;">4,00</div><div class="c g" style="left:748px;width:58px;padding-left:1px;letter-spacing:-0.3px;">6,00</div><div class="c g" style="left:807px;width:59px;padding-left:1px;letter-spacing:-0.3px;">6,00</div><div class="c g" style="left:867px;width:58px;padding-left:1px;letter-spacing:-0.3px;">6,00</div><div class="c b2" style="left:926px;width:19px;"></div></div>
<div class="hl" style="top:420px"></div>
<div class="row" style="top:421px"><div class="c b1" style="left:0px;width:29px;letter-spacing:-0.5px;">11.0</div><div class="c b1" style="left:30px;width:39px;letter-spacing:0px;">P</div><div class="c b2" style="left:70px;width:19px;"></div><div class="c b3" style="left:90px;width:149px;padding-left:1px;"></div><div class="c b3" style="left:240px;width:149px;padding-left:1px;letter-spacing:-0.14px;">Anlagentechnik / Systemtech...</div><div class="c b1" style="left:390px;width:59px;padding-left:1px;"></div><div class="c b1" style="left:450px;width:59px;padding-left:1px;"></div><div class="c b3" style="left:510px;width:58px;padding-left:1px;letter-spacing:-0.3px;">2,00</div><div class="c b1" style="left:569px;width:59px;padding-left:1px;"></div><div class="c b1" style="left:629px;width:58px;padding-left:1px;"></div><div class="c b3" style="left:688px;width:59px;padding-left:1px;letter-spacing:-0.3px;">4,00</div><div class="c b1" style="left:748px;width:58px;padding-left:1px;"></div><div class="c b1" style="left:807px;width:59px;padding-left:1px;"></div><div class="c b1" style="left:867px;width:58px;padding-left:1px;letter-spacing:-0.3px;">6,00</div><div class="c b1" style="left:926px;width:19px;"></div></div>
<div class="hl" style="top:438px"></div>
<div class="row" style="top:439px"><div class="c g" style="left:0px;width:29px;letter-spacing:-0.5px;">12</div><div class="c g" style="left:30px;width:39px;letter-spacing:0px;">P</div><div class="c g" style="left:70px;width:19px;"></div><div class="c g" style="left:90px;width:149px;padding-left:1px;"></div><div class="c g" style="left:240px;width:149px;padding-left:1px;letter-spacing:0.05px;">Technikerarbeit</div><div class="c g" style="left:390px;width:59px;padding-left:1px;"></div><div class="c g" style="left:450px;width:59px;padding-left:1px;"></div><div class="c g" style="left:510px;width:58px;padding-left:1px;"></div><div class="c g" style="left:569px;width:59px;padding-left:1px;letter-spacing:-0.3px;">4,00</div><div class="c g" style="left:629px;width:58px;padding-left:1px;letter-spacing:-0.3px;">4,00</div><div class="c g" style="left:688px;width:59px;padding-left:1px;letter-spacing:-0.3px;">4,00</div><div class="c g" style="left:748px;width:58px;padding-left:1px;letter-spacing:-0.3px;">4,00</div><div class="c g" style="left:807px;width:59px;padding-left:1px;letter-spacing:-0.3px;">4,00</div><div class="c g" style="left:867px;width:58px;padding-left:1px;letter-spacing:-0.3px;">4,00</div><div class="c b2" style="left:926px;width:19px;"></div></div>
<div class="hl" style="top:456px"></div>
<div class="row" style="top:457px"><div class="c b1" style="left:0px;width:29px;letter-spacing:-0.5px;">12.0</div><div class="c b1" style="left:30px;width:39px;letter-spacing:0px;">P</div><div class="c b2" style="left:70px;width:19px;"></div><div class="c b3" style="left:90px;width:149px;padding-left:1px;"></div><div class="c b3" style="left:240px;width:149px;padding-left:1px;letter-spacing:0.05px;">Technikerarbeit</div><div class="c b1" style="left:390px;width:59px;padding-left:1px;"></div><div class="c b1" style="left:450px;width:59px;padding-left:1px;"></div><div class="c b3" style="left:510px;width:58px;padding-left:1px;"></div><div class="c b1" style="left:569px;width:59px;padding-left:1px;"></div><div class="c b1" style="left:629px;width:58px;padding-left:1px;"></div><div class="c b3" style="left:688px;width:59px;padding-left:1px;letter-spacing:-0.3px;">4,00</div><div class="c b1" style="left:748px;width:58px;padding-left:1px;"></div><div class="c b1" style="left:807px;width:59px;padding-left:1px;"></div><div class="c b1" style="left:867px;width:58px;padding-left:1px;letter-spacing:-0.3px;">4,00</div><div class="c b1" style="left:926px;width:19px;"></div></div>
<div class="hl" style="top:474px"></div>
<div class="row" style="top:475px"><div class="c g" style="left:0px;width:29px;letter-spacing:-0.5px;">13</div><div class="c g" style="left:30px;width:39px;letter-spacing:-1px;">WP</div><div class="c g" style="left:70px;width:19px;"></div><div class="c g" style="left:90px;width:149px;padding-left:1px;letter-spacing:-0.275px;">BS: Wahlpflichtfächer BS</div><div class="c g" style="left:240px;width:149px;padding-left:1px;letter-spacing:-0.34px;">(Fächerverbund)</div><div class="c g" style="left:390px;width:59px;padding-left:1px;letter-spacing:-0.3px;">2,00</div><div class="c g" style="left:450px;width:59px;padding-left:1px;letter-spacing:-0.3px;">2,00</div><div class="c red" style="left:510px;width:58px;padding-left:1px;letter-spacing:-0.3px;">0,00</div><div class="c g" style="left:569px;width:59px;padding-left:1px;"></div><div class="c g" style="left:629px;width:58px;padding-left:1px;"></div><div class="c g" style="left:688px;width:59px;padding-left:1px;"></div><div class="c g" style="left:748px;width:58px;padding-left:1px;letter-spacing:-0.3px;">2,00</div><div class="c g" style="left:807px;width:59px;padding-left:1px;letter-spacing:-0.3px;">2,00</div><div class="c red" style="left:867px;width:58px;padding-left:1px;letter-spacing:-0.3px;">0,00</div><div class="c b2" style="left:926px;width:19px;"></div></div>
<div class="hl" style="top:492px"></div>
<div class="row" style="top:493px"><div class="c b1" style="left:0px;width:29px;letter-spacing:-0.5px;">13.0</div><div class="c b1" style="left:30px;width:39px;"></div><div class="c b2" style="left:70px;width:19px;"></div><div class="c b3" style="left:90px;width:149px;padding-left:1px;"></div><div class="c b3" style="left:240px;width:149px;padding-left:1px;"></div><div class="c b1" style="left:390px;width:59px;padding-left:1px;"></div><div class="c b1" style="left:450px;width:59px;padding-left:1px;"></div><div class="c b3" style="left:510px;width:58px;padding-left:1px;"></div><div class="c b1" style="left:569px;width:59px;padding-left:1px;"></div><div class="c b1" style="left:629px;width:58px;padding-left:1px;"></div><div class="c b3" style="left:688px;width:59px;padding-left:1px;"></div><div class="c b1" style="left:748px;width:58px;padding-left:1px;"></div><div class="c b1" style="left:807px;width:59px;padding-left:1px;"></div><div class="c b1" style="left:867px;width:58px;padding-left:1px;"></div><div class="c b1" style="left:926px;width:19px;"></div></div>
<div class="hl" style="top:510px"></div>
<div class="vl" style="left:30px;top:43px;height:460px"></div>
<div class="vl" style="left:70px;top:43px;height:460px"></div>
<div class="vl" style="left:90px;top:43px;height:460px"></div>
<div class="vl" style="left:240px;top:43px;height:460px"></div>
<div class="vl" style="left:390px;top:43px;height:460px"></div>
<div class="vl" style="left:450px;top:43px;height:460px"></div>
<div class="vl" style="left:510px;top:43px;height:460px"></div>
<div class="vl" style="left:569px;top:43px;height:460px"></div>
<div class="vl" style="left:629px;top:43px;height:460px"></div>
<div class="vl" style="left:688px;top:43px;height:460px"></div>
<div class="vl" style="left:748px;top:43px;height:460px"></div>
<div class="vl" style="left:807px;top:43px;height:460px"></div>
<div class="vl" style="left:867px;top:43px;height:460px"></div>
<div class="vl" style="left:926px;top:43px;height:460px"></div>
<div class="vl" style="left:946px;top:43px;height:460px"></div>
<div class="pbtn" style="left:71px;top:43px;width:19px;height:17px"></div><svg style="left:74px;top:44px" width="14" height="14" viewBox="0 0 14 14"><circle cx="7" cy="7" r="6.9" fill="#55A846"/><circle cx="7" cy="7" r="5.7" fill="url(#gplus)" stroke="#A9DC9D" stroke-width="0.9"/><path d="M7 4 V10 M4 7 H10" stroke="#fff" stroke-width="2"/></svg>
<div class="pbtn" style="left:927px;top:61px;width:19px;height:17px;border-color:#2A4C8C;background:linear-gradient(#EEF2FD,#D5DFF6 50%,#B3C4EA)"></div><svg style="left:929px;top:63px" width="14" height="13" viewBox="0 0 14 13"><path d="M2.2 2 L11.8 11 M11.8 2 L2.2 11" stroke="#F59C9C" stroke-width="4" stroke-linecap="round"/><path d="M2.4 2.2 L11.6 10.8 M11.6 2.2 L2.4 10.8" stroke="#F24C4C" stroke-width="2.4" stroke-linecap="round"/></svg>
<div class="pbtn" style="left:71px;top:79px;width:19px;height:17px"></div><svg style="left:74px;top:80px" width="14" height="14" viewBox="0 0 14 14"><circle cx="7" cy="7" r="6.9" fill="#55A846"/><circle cx="7" cy="7" r="5.7" fill="url(#gplus)" stroke="#A9DC9D" stroke-width="0.9"/><path d="M7 4 V10 M4 7 H10" stroke="#fff" stroke-width="2"/></svg>
<div class="pbtn" style="left:927px;top:97px;width:19px;height:17px;border-color:#2A4C8C;background:linear-gradient(#EEF2FD,#D5DFF6 50%,#B3C4EA)"></div><svg style="left:929px;top:99px" width="14" height="13" viewBox="0 0 14 13"><path d="M2.2 2 L11.8 11 M11.8 2 L2.2 11" stroke="#F59C9C" stroke-width="4" stroke-linecap="round"/><path d="M2.4 2.2 L11.6 10.8 M11.6 2.2 L2.4 10.8" stroke="#F24C4C" stroke-width="2.4" stroke-linecap="round"/></svg>
<div class="pbtn" style="left:71px;top:115px;width:19px;height:17px"></div><svg style="left:74px;top:116px" width="14" height="14" viewBox="0 0 14 14"><circle cx="7" cy="7" r="6.9" fill="#55A846"/><circle cx="7" cy="7" r="5.7" fill="url(#gplus)" stroke="#A9DC9D" stroke-width="0.9"/><path d="M7 4 V10 M4 7 H10" stroke="#fff" stroke-width="2"/></svg>
<div class="pbtn" style="left:927px;top:133px;width:19px;height:17px;border-color:#2A4C8C;background:linear-gradient(#EEF2FD,#D5DFF6 50%,#B3C4EA)"></div><svg style="left:929px;top:135px" width="14" height="13" viewBox="0 0 14 13"><path d="M2.2 2 L11.8 11 M11.8 2 L2.2 11" stroke="#F59C9C" stroke-width="4" stroke-linecap="round"/><path d="M2.4 2.2 L11.6 10.8 M11.6 2.2 L2.4 10.8" stroke="#F24C4C" stroke-width="2.4" stroke-linecap="round"/></svg>
<div class="pbtn" style="left:71px;top:151px;width:19px;height:17px"></div><svg style="left:74px;top:152px" width="14" height="14" viewBox="0 0 14 14"><circle cx="7" cy="7" r="6.9" fill="#55A846"/><circle cx="7" cy="7" r="5.7" fill="url(#gplus)" stroke="#A9DC9D" stroke-width="0.9"/><path d="M7 4 V10 M4 7 H10" stroke="#fff" stroke-width="2"/></svg>
<div class="pbtn" style="left:927px;top:169px;width:19px;height:17px;border-color:#2A4C8C;background:linear-gradient(#EEF2FD,#D5DFF6 50%,#B3C4EA)"></div><svg style="left:929px;top:171px" width="14" height="13" viewBox="0 0 14 13"><path d="M2.2 2 L11.8 11 M11.8 2 L2.2 11" stroke="#F59C9C" stroke-width="4" stroke-linecap="round"/><path d="M2.4 2.2 L11.6 10.8 M11.6 2.2 L2.4 10.8" stroke="#F24C4C" stroke-width="2.4" stroke-linecap="round"/></svg>
<div class="pbtn" style="left:71px;top:187px;width:19px;height:17px"></div><svg style="left:74px;top:188px" width="14" height="14" viewBox="0 0 14 14"><circle cx="7" cy="7" r="6.9" fill="#55A846"/><circle cx="7" cy="7" r="5.7" fill="url(#gplus)" stroke="#A9DC9D" stroke-width="0.9"/><path d="M7 4 V10 M4 7 H10" stroke="#fff" stroke-width="2"/></svg>
<div class="pbtn" style="left:927px;top:205px;width:19px;height:17px;border-color:#2A4C8C;background:linear-gradient(#EEF2FD,#D5DFF6 50%,#B3C4EA)"></div><svg style="left:929px;top:207px" width="14" height="13" viewBox="0 0 14 13"><path d="M2.2 2 L11.8 11 M11.8 2 L2.2 11" stroke="#F59C9C" stroke-width="4" stroke-linecap="round"/><path d="M2.4 2.2 L11.6 10.8 M11.6 2.2 L2.4 10.8" stroke="#F24C4C" stroke-width="2.4" stroke-linecap="round"/></svg>
<div class="pbtn" style="left:71px;top:223px;width:19px;height:17px"></div><svg style="left:74px;top:224px" width="14" height="14" viewBox="0 0 14 14"><circle cx="7" cy="7" r="6.9" fill="#55A846"/><circle cx="7" cy="7" r="5.7" fill="url(#gplus)" stroke="#A9DC9D" stroke-width="0.9"/><path d="M7 4 V10 M4 7 H10" stroke="#fff" stroke-width="2"/></svg>
<div class="pbtn" style="left:927px;top:241px;width:19px;height:17px;border-color:#2A4C8C;background:linear-gradient(#EEF2FD,#D5DFF6 50%,#B3C4EA)"></div><svg style="left:929px;top:243px" width="14" height="13" viewBox="0 0 14 13"><path d="M2.2 2 L11.8 11 M11.8 2 L2.2 11" stroke="#F59C9C" stroke-width="4" stroke-linecap="round"/><path d="M2.4 2.2 L11.6 10.8 M11.6 2.2 L2.4 10.8" stroke="#F24C4C" stroke-width="2.4" stroke-linecap="round"/></svg>
<div class="pbtn" style="left:71px;top:259px;width:19px;height:17px"></div><svg style="left:74px;top:260px" width="14" height="14" viewBox="0 0 14 14"><circle cx="7" cy="7" r="6.9" fill="#55A846"/><circle cx="7" cy="7" r="5.7" fill="url(#gplus)" stroke="#A9DC9D" stroke-width="0.9"/><path d="M7 4 V10 M4 7 H10" stroke="#fff" stroke-width="2"/></svg>
<div class="pbtn" style="left:927px;top:277px;width:19px;height:17px;border-color:#2A4C8C;background:linear-gradient(#EEF2FD,#D5DFF6 50%,#B3C4EA)"></div><svg style="left:929px;top:279px" width="14" height="13" viewBox="0 0 14 13"><path d="M2.2 2 L11.8 11 M11.8 2 L2.2 11" stroke="#F59C9C" stroke-width="4" stroke-linecap="round"/><path d="M2.4 2.2 L11.6 10.8 M11.6 2.2 L2.4 10.8" stroke="#F24C4C" stroke-width="2.4" stroke-linecap="round"/></svg>
<div class="pbtn" style="left:71px;top:295px;width:19px;height:17px"></div><svg style="left:74px;top:296px" width="14" height="14" viewBox="0 0 14 14"><circle cx="7" cy="7" r="6.9" fill="#55A846"/><circle cx="7" cy="7" r="5.7" fill="url(#gplus)" stroke="#A9DC9D" stroke-width="0.9"/><path d="M7 4 V10 M4 7 H10" stroke="#fff" stroke-width="2"/></svg>
<div class="pbtn" style="left:927px;top:313px;width:19px;height:17px;border-color:#2A4C8C;background:linear-gradient(#EEF2FD,#D5DFF6 50%,#B3C4EA)"></div><svg style="left:929px;top:315px" width="14" height="13" viewBox="0 0 14 13"><path d="M2.2 2 L11.8 11 M11.8 2 L2.2 11" stroke="#F59C9C" stroke-width="4" stroke-linecap="round"/><path d="M2.4 2.2 L11.6 10.8 M11.6 2.2 L2.4 10.8" stroke="#F24C4C" stroke-width="2.4" stroke-linecap="round"/></svg>
<div class="pbtn" style="left:71px;top:331px;width:19px;height:17px"></div><svg style="left:74px;top:332px" width="14" height="14" viewBox="0 0 14 14"><circle cx="7" cy="7" r="6.9" fill="#55A846"/><circle cx="7" cy="7" r="5.7" fill="url(#gplus)" stroke="#A9DC9D" stroke-width="0.9"/><path d="M7 4 V10 M4 7 H10" stroke="#fff" stroke-width="2"/></svg>
<div class="pbtn" style="left:927px;top:349px;width:19px;height:17px;border-color:#2A4C8C;background:linear-gradient(#EEF2FD,#D5DFF6 50%,#B3C4EA)"></div><svg style="left:929px;top:351px" width="14" height="13" viewBox="0 0 14 13"><path d="M2.2 2 L11.8 11 M11.8 2 L2.2 11" stroke="#F59C9C" stroke-width="4" stroke-linecap="round"/><path d="M2.4 2.2 L11.6 10.8 M11.6 2.2 L2.4 10.8" stroke="#F24C4C" stroke-width="2.4" stroke-linecap="round"/></svg>
<div class="pbtn" style="left:71px;top:367px;width:19px;height:17px"></div><svg style="left:74px;top:368px" width="14" height="14" viewBox="0 0 14 14"><circle cx="7" cy="7" r="6.9" fill="#55A846"/><circle cx="7" cy="7" r="5.7" fill="url(#gplus)" stroke="#A9DC9D" stroke-width="0.9"/><path d="M7 4 V10 M4 7 H10" stroke="#fff" stroke-width="2"/></svg>
<div class="pbtn" style="left:927px;top:385px;width:19px;height:17px;border-color:#2A4C8C;background:linear-gradient(#EEF2FD,#D5DFF6 50%,#B3C4EA)"></div><svg style="left:929px;top:387px" width="14" height="13" viewBox="0 0 14 13"><path d="M2.2 2 L11.8 11 M11.8 2 L2.2 11" stroke="#F59C9C" stroke-width="4" stroke-linecap="round"/><path d="M2.4 2.2 L11.6 10.8 M11.6 2.2 L2.4 10.8" stroke="#F24C4C" stroke-width="2.4" stroke-linecap="round"/></svg>
<div class="pbtn" style="left:71px;top:403px;width:19px;height:17px"></div><svg style="left:74px;top:404px" width="14" height="14" viewBox="0 0 14 14"><circle cx="7" cy="7" r="6.9" fill="#55A846"/><circle cx="7" cy="7" r="5.7" fill="url(#gplus)" stroke="#A9DC9D" stroke-width="0.9"/><path d="M7 4 V10 M4 7 H10" stroke="#fff" stroke-width="2"/></svg>
<div class="pbtn" style="left:927px;top:421px;width:19px;height:17px;border-color:#2A4C8C;background:linear-gradient(#EEF2FD,#D5DFF6 50%,#B3C4EA)"></div><svg style="left:929px;top:423px" width="14" height="13" viewBox="0 0 14 13"><path d="M2.2 2 L11.8 11 M11.8 2 L2.2 11" stroke="#F59C9C" stroke-width="4" stroke-linecap="round"/><path d="M2.4 2.2 L11.6 10.8 M11.6 2.2 L2.4 10.8" stroke="#F24C4C" stroke-width="2.4" stroke-linecap="round"/></svg>
<div class="pbtn" style="left:71px;top:439px;width:19px;height:17px"></div><svg style="left:74px;top:440px" width="14" height="14" viewBox="0 0 14 14"><circle cx="7" cy="7" r="6.9" fill="#55A846"/><circle cx="7" cy="7" r="5.7" fill="url(#gplus)" stroke="#A9DC9D" stroke-width="0.9"/><path d="M7 4 V10 M4 7 H10" stroke="#fff" stroke-width="2"/></svg>
<div class="pbtn" style="left:927px;top:457px;width:19px;height:17px;border-color:#2A4C8C;background:linear-gradient(#EEF2FD,#D5DFF6 50%,#B3C4EA)"></div><svg style="left:929px;top:459px" width="14" height="13" viewBox="0 0 14 13"><path d="M2.2 2 L11.8 11 M11.8 2 L2.2 11" stroke="#F59C9C" stroke-width="4" stroke-linecap="round"/><path d="M2.4 2.2 L11.6 10.8 M11.6 2.2 L2.4 10.8" stroke="#F24C4C" stroke-width="2.4" stroke-linecap="round"/></svg>
<div class="pbtn" style="left:71px;top:475px;width:19px;height:17px"></div><svg style="left:74px;top:476px" width="14" height="14" viewBox="0 0 14 14"><circle cx="7" cy="7" r="6.9" fill="#55A846"/><circle cx="7" cy="7" r="5.7" fill="url(#gplus)" stroke="#A9DC9D" stroke-width="0.9"/><path d="M7 4 V10 M4 7 H10" stroke="#fff" stroke-width="2"/></svg>
<div class="pbtn" style="left:927px;top:493px;width:19px;height:17px;border-color:#2A4C8C;background:linear-gradient(#EEF2FD,#D5DFF6 50%,#B3C4EA)"></div><svg style="left:929px;top:495px" width="14" height="13" viewBox="0 0 14 13"><path d="M2.2 2 L11.8 11 M11.8 2 L2.2 11" stroke="#F59C9C" stroke-width="4" stroke-linecap="round"/><path d="M2.4 2.2 L11.6 10.8 M11.6 2.2 L2.4 10.8" stroke="#F24C4C" stroke-width="2.4" stroke-linecap="round"/></svg>
<div class="hili" style="left:686px;top:59px;width:63px;height:22px"></div>
<div class="hili" style="left:686px;top:131px;width:63px;height:22px"></div>
<div class="hili" style="left:686px;top:203px;width:63px;height:22px"></div>
<div class="hili" style="left:686px;top:275px;width:63px;height:22px"></div>
<div class="a" style="left:947px;top:1px;width:17px;height:42px;box-sizing:border-box;border:1.5px solid #1F4080;border-radius:3.5px;background:linear-gradient(#FFFFFF,#F4F4FA 45%,#C6C6D0)"></div>
<svg style="left:951px;top:16px" width="11" height="11" viewBox="0 0 11 11"><g><rect x="0" y="0" width="10" height="1.5"/><rect x="0" y="0" width="1" height="9"/><rect x="4" y="2" width="1" height="3"/><rect x="9" y="2" width="1" height="3"/><rect x="0" y="4" width="10" height="1"/><rect x="0" y="8" width="4" height="1"/></g><path d="M3.4 5.9 H10.6 L7 10 Z" fill="#000"/></svg>
<div class="a" style="left:947px;top:43px;width:17px;height:460px;background:#FDFDFD"></div>
<div class="a" style="left:948px;top:43px;width:15px;height:17px;box-sizing:border-box;border:1px solid #C4D2F0;border-radius:2px;background:linear-gradient(#E4ECFB,#B9CBF0)"></div><svg style="left:950.5px;top:48.5px" width="10" height="6" viewBox="0 0 10 6"><path d="M1 5 L5 1.2 L9 5" fill="none" stroke="#4A5E85" stroke-width="2"/></svg>
<div class="a" style="left:948px;top:61px;width:15px;height:57px;box-sizing:border-box;border:1px solid #9DB4E4;border-radius:2px;background:linear-gradient(90deg,#DCE5FA,#C4D2F3 50%,#9DB2E3)"></div>
<div class="a" style="left:953px;top:85px;width:7px;height:1px;background:#F4F7FF;box-shadow:0 1px 0 #9FB3DD"></div>
<div class="a" style="left:953px;top:87px;width:7px;height:1px;background:#F4F7FF;box-shadow:0 1px 0 #9FB3DD"></div>
<div class="a" style="left:953px;top:89px;width:7px;height:1px;background:#F4F7FF;box-shadow:0 1px 0 #9FB3DD"></div>
<div class="a" style="left:953px;top:91px;width:7px;height:1px;background:#F4F7FF;box-shadow:0 1px 0 #9FB3DD"></div>
<div class="a" style="left:948px;top:479px;width:15px;height:17px;box-sizing:border-box;border:1px solid #C4D2F0;border-radius:2px;background:linear-gradient(#E4ECFB,#B9CBF0)"></div><svg style="left:950.5px;top:484.5px" width="10" height="6" viewBox="0 0 10 6"><path d="M1 1 L5 4.8 L9 1" fill="none" stroke="#4A5E85" stroke-width="2"/></svg>
</div>
<div class="a" style="left:985px;top:51px;width:1px;height:719px;background:#FBFBFF"></div>
<div class="a" style="left:987px;top:51px;width:1px;height:719px;background:#FBFBFF"></div>
<div class="a" style="left:987px;top:51px;width:118px;height:1px;background:#FBFBFF"></div>
<div class="a" style="left:986px;top:50px;width:1px;height:720px;background:#606060"></div>
<div class="a" style="left:986px;top:50px;width:119px;height:1px;background:#606060"></div>
<div class="a" style="left:1105px;top:49px;width:1px;height:721px;background:#FFFFFF"></div>
<div class="a" style="left:980px;top:51px;width:1px;height:719px;background:#FBFBFF"></div>
<div class="a" style="left:1107px;top:1px;width:1px;height:771px;background:#DCDCE4"></div>
<div class="a" style="left:2px;top:769px;width:1103px;height:1px;background:#FAFAFF"></div>
<div class="a" style="left:993px;top:59px;width:9px;height:1px;background:#A3A3A3;box-shadow:0 1px 0 #fff"></div>
<div class="t" style="left:1006px;top:52px">Navigator</div>
<div class="a" style="left:1056px;top:59px;width:43px;height:1px;background:#A3A3A3;box-shadow:0 1px 0 #fff"></div>
<div class="a" style="left:993px;top:70px;width:106px;height:1px;background:#8E8E92"></div>
<div class="a" style="left:993px;top:70px;width:1px;height:40px;background:#A9A9B1"></div>
<div class="a" style="left:994px;top:71px;width:87px;height:21px;background:linear-gradient(#F4F4FF,#F0F0FF 75%,#D8D8E0)"></div><div class="t" style="left:994px;top:76px;letter-spacing:-0.2px">Zweig</div><svg style="left:1062px;top:79px" width="9" height="5" viewBox="0 0 9 5"><path d="M0 5 L4.5 0.4 L9 5 Z" fill="#2B4660"/></svg><div class="t" style="left:1073px;top:75px;font-size:10.5px;-webkit-text-stroke:0">2</div><div class="a" style="left:1079px;top:74px;width:1px;height:15px;background:#C2C2CA"></div>
<div class="a" style="left:994px;top:92px;width:87px;height:17px;background:#4080FF"></div>
<div class="t" style="left:996px;top:94px;color:#fff;letter-spacing:-1px">BS</div>
<div class="a" style="left:1081px;top:92px;width:18px;height:17px;background:#FFFFFF"></div>
<div class="a" style="left:1081px;top:71px;width:17px;height:21px;box-sizing:border-box;border:1.5px solid #1F4080;border-radius:3.5px;background:linear-gradient(#FFFFFF,#F4F4FA 45%,#C6C6D0)"></div><svg style="left:1084.5px;top:76.5px" width="11" height="11" viewBox="0 0 11 11"><g><rect x="0" y="0" width="10" height="1.5"/><rect x="0" y="0" width="1" height="9"/><rect x="4" y="2" width="1" height="3"/><rect x="9" y="2" width="1" height="3"/><rect x="0" y="4" width="10" height="1"/><rect x="0" y="8" width="4" height="1"/></g><path d="M3.4 5.9 H10.6 L7 10 Z" fill="#000"/></svg>
<div class="a" style="left:1083px;top:93px;width:15px;height:8px;box-sizing:border-box;border:1px solid #C4D2F0;border-radius:2px;background:linear-gradient(#E4ECFB,#B4C7EE)"></div><svg style="left:1085.5px;top:94px" width="10" height="6" viewBox="0 0 10 6"><path d="M1 5 L5 1.2 L9 5" fill="none" stroke="#4A5E85" stroke-width="2"/></svg>
<div class="a" style="left:1083px;top:101px;width:15px;height:8px;box-sizing:border-box;border:1px solid #C4D2F0;border-radius:2px;background:linear-gradient(#E4ECFB,#B4C7EE)"></div><svg style="left:1085.5px;top:102px" width="10" height="6" viewBox="0 0 10 6"><path d="M1 1 L5 4.8 L9 1" fill="none" stroke="#4A5E85" stroke-width="2"/></svg>
<div class="a" style="left:993px;top:115px;width:106px;height:1px;background:#FFFFFF"></div>
<div class="a" style="left:993px;top:121px;width:106px;height:1px;background:#707070"></div>
<div class="nbtn" style="left:993px;top:125px;width:85px;height:23px;">Filter</div>
<div class="a" style="left:1085px;top:130px;width:13px;height:13px;box-sizing:border-box;border:1px solid #CFCFD7;background:#F8F8FF"></div>
<div class="nbtn" style="left:993px;top:158px;width:90px;height:23px;letter-spacing:-0.5px">Suche</div>
<div class="a" style="left:1090px;top:163px;width:4px;height:13px;box-sizing:border-box;border:1px solid #D2D2DA;border-right:none;background:#F8F8FF"></div>
<div class="a" style="left:993px;top:185px;width:106px;height:1px;background:#FFFFFF"></div>
<div class="a" style="left:993px;top:191px;width:106px;height:1px;background:#858589"></div>
<div class="a" style="left:993px;top:191px;width:1px;height:531px;background:#A9A9B1"></div>
<div class="a" style="left:1081px;top:213px;width:18px;height:509px;background:#FFFFFF"></div>
<div class="a" style="left:994px;top:213px;width:87px;height:9px;background:#E8E8F0;overflow:hidden"><div class="t" style="left:1px;top:-6px;letter-spacing:-0.6px">3BKD</div></div>
<div class="a" style="left:994px;top:222px;width:87px;height:18px;background:#E8E8F0"></div>
<div class="nrow" style="top:222px;height:17px;width:86px;background:#C9D7F5;color:#000;overflow:hidden"><span class="sx">3BKE</span></div>
<div class="nrow" style="top:240px;height:18px;background:#E8E8F0;color:#000;overflow:hidden"><span class="sx">3BKHD</span></div>
<div class="a" style="left:994px;top:258px;width:87px;height:18px;background:#E8E8F0"></div>
<div class="nrow" style="top:258px;height:17px;width:86px;background:#C9D7F5;color:#000;overflow:hidden"><span class="sx">3BKI</span></div>
<div class="nrow" style="top:276px;height:18px;background:#E8E8F0;color:#000;overflow:hidden"><span class="sx">3BKM</span></div>
<div class="a" style="left:994px;top:294px;width:87px;height:18px;background:#E8E8F0"></div>
<div class="nrow" style="top:294px;height:17px;width:86px;background:#C9D7F5;color:#000;overflow:hidden"><span class="sx">3BKMD</span></div>
<div class="nrow" style="top:312px;height:18px;background:#E8E8F0;color:#000;overflow:hidden"><span class="sx">3BKR</span></div>
<div class="a" style="left:994px;top:330px;width:87px;height:18px;background:#E8E8F0"></div>
<div class="nrow" style="top:330px;height:17px;width:86px;background:#C9D7F5;color:#000;overflow:hidden"><span class="sx">3BKSVM</span></div>
<div class="nrow" style="top:348px;height:18px;background:#E8E8F0;color:#000;overflow:hidden"><span class="sx">3BKWA</span></div>
<div class="a" style="left:994px;top:366px;width:87px;height:18px;background:#E8E8F0"></div>
<div class="nrow" style="top:366px;height:17px;width:86px;background:#C9D7F5;color:#000;overflow:hidden"><span class="sx">3BKWA</span></div>
<div class="nrow" style="top:384px;height:18px;background:#E8E8F0;color:#000;overflow:hidden"><span class="sx">3BKWA</span></div>
<div class="a" style="left:994px;top:402px;width:87px;height:18px;background:#E8E8F0"></div>
<div class="nrow" style="top:402px;height:17px;width:86px;background:#C9D7F5;color:#000;overflow:hidden"><span class="sx">6TG</span></div>
<div class="nrow" style="top:420px;height:18px;background:#E8E8F0;color:#000;overflow:hidden"><span class="sx">BKSPIT</span></div>
<div class="a" style="left:994px;top:438px;width:87px;height:18px;background:#E8E8F0"></div>
<div class="nrow" style="top:438px;height:17px;width:86px;background:#C9D7F5;color:#000;overflow:hidden"><span class="sx">BKSPT</span></div>
<div class="nrow" style="top:456px;height:18px;background:#E8E8F0;color:#000;overflow:hidden"><span class="sx">E</span></div>
<div class="a" style="left:994px;top:474px;width:87px;height:18px;background:#E8E8F0"></div>
<div class="nrow" style="top:474px;height:17px;width:86px;background:#C9D7F5;color:#000;overflow:hidden"><span class="sx">FBW</span></div>
<div class="nrow" style="top:492px;height:18px;background:#E8E8F0;color:#000;overflow:hidden"><span class="sx">FBWT</span></div>
<div class="a" style="left:994px;top:510px;width:87px;height:18px;background:#E8E8F0"></div>
<div class="nrow" style="top:510px;height:17px;width:86px;background:#C9D7F5;color:#000;overflow:hidden"><span class="sx">FHMGT</span></div>
<div class="nrow" style="top:528px;height:18px;background:#E8E8F0;color:#000;overflow:hidden"><span class="sx">FOFT</span></div>
<div class="a" style="left:994px;top:546px;width:87px;height:18px;background:#E8E8F0"></div>
<div class="nrow" style="top:546px;height:17px;width:86px;background:#C9D7F5;color:#000;overflow:hidden"><span class="sx">FPGT</span></div>
<div class="nrow" style="top:564px;height:18px;background:#E8E8F0;color:#000;overflow:hidden"><span class="sx">FPLT</span></div>
<div class="a" style="left:994px;top:582px;width:87px;height:18px;background:#E8E8F0"></div>
<div class="nrow" style="top:582px;height:17px;width:86px;background:#C9D7F5;color:#000;overflow:hidden"><span class="sx">FSJHE</span></div>
<div class="nrow" style="top:600px;height:18px;background:#E8E8F0;color:#000;overflow:hidden"><span class="sx">FTBT</span></div>
<div class="a" style="left:994px;top:618px;width:87px;height:18px;background:#E8E8F0"></div>
<div class="nrow" style="top:618px;height:17px;width:85px;background:#4080FF;color:#fff;overflow:hidden"><span class="sx">FTE</span></div>
<div class="nrow" style="top:636px;height:18px;background:#E8E8F0;color:#000;overflow:hidden"><span class="sx">FTM</span></div>
<div class="a" style="left:994px;top:654px;width:87px;height:18px;background:#E8E8F0"></div>
<div class="nrow" style="top:654px;height:17px;width:86px;background:#C9D7F5;color:#000;overflow:hidden"><span class="sx">FTMT</span></div>
<div class="nrow" style="top:672px;height:18px;background:#E8E8F0;color:#000;overflow:hidden"><span class="sx">H</span></div>
<div class="a" style="left:994px;top:690px;width:87px;height:18px;background:#E8E8F0"></div>
<div class="nrow" style="top:690px;height:17px;width:86px;background:#C9D7F5;color:#000;overflow:hidden"><span class="sx">KOBV</span></div>
<div class="nrow" style="top:708px;height:14px;background:#E8E8F0;color:#000;overflow:hidden"><span class="sx">R</span></div>
<div class="a" style="left:994px;top:192px;width:87px;height:21px;background:linear-gradient(#F4F4FF,#F0F0FF 75%,#D8D8E0)"></div><div class="t" style="left:994px;top:197px;letter-spacing:-0.2px">Bildungsgang</div><svg style="left:1062px;top:200px" width="9" height="5" viewBox="0 0 9 5"><path d="M0 5 L4.5 0.4 L9 5 Z" fill="#2B4660"/></svg><div class="t" style="left:1073px;top:196px;font-size:10.5px;-webkit-text-stroke:0">2</div><div class="a" style="left:1079px;top:195px;width:1px;height:15px;background:#C2C2CA"></div>
<div class="a" style="left:1081px;top:193px;width:17px;height:20px;box-sizing:border-box;border:1.5px solid #1F4080;border-radius:3.5px;background:linear-gradient(#FFFFFF,#F4F4FA 45%,#C6C6D0)"></div><svg style="left:1084.5px;top:198px" width="11" height="11" viewBox="0 0 11 11"><g><rect x="0" y="0" width="10" height="1.5"/><rect x="0" y="0" width="1" height="9"/><rect x="4" y="2" width="1" height="3"/><rect x="9" y="2" width="1" height="3"/><rect x="0" y="4" width="10" height="1"/><rect x="0" y="8" width="4" height="1"/></g><path d="M3.4 5.9 H10.6 L7 10 Z" fill="#000"/></svg>
<div class="a" style="left:990px;top:616px;width:90px;height:19px;box-sizing:border-box;border:2px solid #FA2626;box-shadow:inset 1px 1px 2px rgba(40,50,95,.5),1px 2px 2px rgba(70,70,80,.5)"></div>
<div class="a" style="left:1082px;top:215px;width:16px;height:16px;box-sizing:border-box;border:1px solid #C4D2F0;border-radius:2px;background:linear-gradient(#E4ECFB,#B4C7EE)"></div><svg style="left:1085px;top:220px" width="10" height="6" viewBox="0 0 10 6"><path d="M1 5 L5 1.2 L9 5" fill="none" stroke="#4A5E85" stroke-width="2"/></svg>
<div class="a" style="left:1082px;top:503px;width:15px;height:155px;box-sizing:border-box;border:1px solid #9DB4E4;border-radius:2px;background:linear-gradient(90deg,#DCE5FA,#C4D2F3 50%,#9DB2E3)"></div>
<div class="a" style="left:1086px;top:577px;width:7px;height:1px;background:#F4F7FF;box-shadow:0 1px 0 #8FA6D6"></div>
<div class="a" style="left:1086px;top:579px;width:7px;height:1px;background:#F4F7FF;box-shadow:0 1px 0 #8FA6D6"></div>
<div class="a" style="left:1086px;top:581px;width:7px;height:1px;background:#F4F7FF;box-shadow:0 1px 0 #8FA6D6"></div>
<div class="a" style="left:1086px;top:583px;width:7px;height:1px;background:#F4F7FF;box-shadow:0 1px 0 #8FA6D6"></div>
<div class="a" style="left:1082px;top:705px;width:16px;height:16px;box-sizing:border-box;border:1px solid #C4D2F0;border-radius:2px;background:linear-gradient(#E4ECFB,#B4C7EE)"></div><svg style="left:1085px;top:710px" width="10" height="6" viewBox="0 0 10 6"><path d="M1 1 L5 4.8 L9 1" fill="none" stroke="#4A5E85" stroke-width="2"/></svg>
<div class="t" style="left:993px;width:106px;text-align:center;top:724px">Anzahl: 85</div>
<div class="a" style="left:993px;top:741px;width:106px;height:1px;background:#FFFFFF"></div>
<svg style="left:1009px;top:747px" width="11" height="12" viewBox="0 0 11 12"><path d="M0 0 H3.6 V12 H0 Z" fill="url(#gb)" stroke="#2A5FC8" stroke-width="0.6" stroke-linejoin="round"/><path d="M10.4 0 L3.4 6 L10.4 12 Z" fill="url(#gb)" stroke="#2A5FC8" stroke-width="0.6" stroke-linejoin="round"/></svg>
<svg style="left:1028px;top:747px" width="15" height="12" viewBox="0 0 15 12"><path d="M7.6 0 L0 6 L7.6 12 Z" fill="url(#gb)" stroke="#2A5FC8" stroke-width="0.6" stroke-linejoin="round"/><path d="M14.6 0 L7 6 L14.6 12 Z" fill="url(#gb)" stroke="#2A5FC8" stroke-width="0.6" stroke-linejoin="round"/></svg>
<svg style="left:1052px;top:747px" width="8" height="12" viewBox="0 0 8 12"><path d="M7.4 0 L0 6 L7.4 12 Z" fill="url(#gb)" stroke="#2A5FC8" stroke-width="0.6" stroke-linejoin="round"/></svg>
<svg style="left:1073px;top:747px" width="8" height="12" viewBox="0 0 8 12"><path d="M0 0 L7.4 6 L0 12 Z" fill="url(#gb)" stroke="#2A5FC8" stroke-width="0.6" stroke-linejoin="round"/></svg>
<div class="a" style="left:993px;top:764px;width:22px;height:1px;background:#C6C6CE"></div>
<div class="a" style="left:1077px;top:764px;width:22px;height:1px;background:#C6C6CE"></div>
<div class="a" style="left:2px;top:770px;width:1105px;height:1px;background:#8CA3C2"></div>
<div class="a" style="left:0;top:771px;width:1108px;height:1px;background:#808080"></div>
</div>
</body></html>
